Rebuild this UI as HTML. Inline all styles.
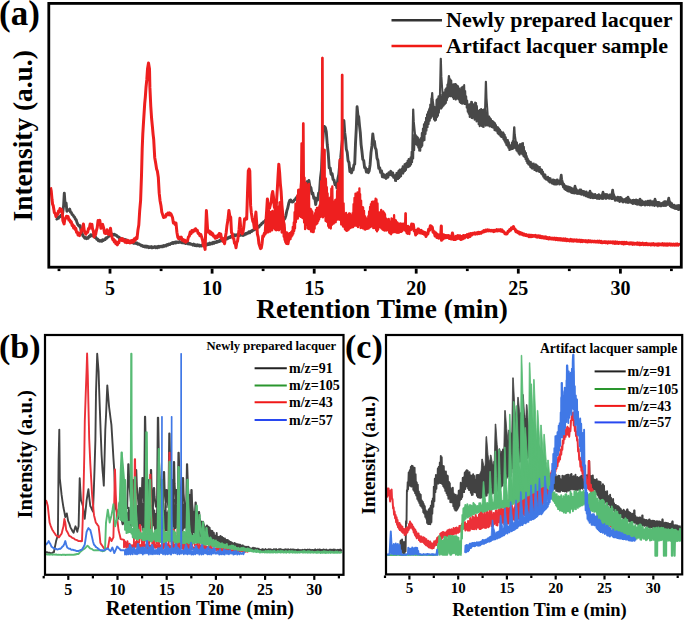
<!DOCTYPE html><html><head><meta charset="utf-8"><style>html,body{margin:0;padding:0;background:#fff;}body{width:685px;height:622px;overflow:hidden;font-family:"Liberation Serif",serif;} svg{display:block;}</style></head><body><svg width="685" height="622" viewBox="0 0 685 622">
<rect width="685" height="622" fill="#fff"/>
<defs><clipPath id="ca"><rect x="50" y="4.5" width="630" height="261.5"/></clipPath><clipPath id="cb"><rect x="46" y="336" width="296.5" height="237.5"/></clipPath><clipPath id="cc"><rect x="387" y="336" width="294" height="237"/></clipPath></defs>
<g clip-path="url(#ca)">
<path d="M56,218.6 L56.8,219.1 L57.7,217.5 L58.5,218.2 L59.3,216.6 L60.1,216.8 L61,215.2 L61.8,215.2 L62.6,213.5 L63.6,205.6 L64.3,193.2 L65,202.9 L66.1,203 L66.9,211.2 L67.8,209.8 L68.8,210.3 L69.7,209.1 L70.5,212.1 L71.3,212.5 L72.1,214.6 L72.9,214.8 L73.7,216.4 L74.5,217.1 L75.4,219.1 L76.2,219.9 L77.1,222.9 L78,224.8 L79,226 L80.1,225.7 L80.9,230.1 L81.8,232.4 L82.9,235.7 L84,236.9 L84.8,238.2 L85.7,237.5 L86.6,238.6 L87.4,237.8 L88.2,238.3 L89.1,236.2 L90,236.5 L90.8,234.7 L91.6,235.7 L92.4,235.3 L93.3,236.2 L94.1,235.7 L94.9,237.5 L95.8,237.3 L96.7,239.2 L97.5,238.9 L98.3,240.7 L99.2,240.2 L100.1,241.2 L100.9,240.6 L101.8,241.3 L102.6,239.8 L103.5,240.4 L104.3,239.4 L105.1,239.6 L105.9,237.9 L106.8,238.3 L107.6,237.1 L108.4,236.9 L109.3,235 L110.2,235.4 L111,233.7 L111.9,234.6 L112.8,234.2 L113.7,234.9 L114.6,234.3 L115.5,235.4 L116.5,235.3 L117.5,236.8 L118.4,236.7 L119.4,238.2 L120.4,238 L121.3,239.2 L122.2,238.7 L123,239.7 L123.9,239.3 L124.8,240.3 L125.7,239.6 L126.5,241.3 L127.4,240.6 L128.3,241.9 L129.3,241.2 L130.2,242.1 L131.2,241.3 L132.1,242.7 L133,242.2 L134,243.4 L134.9,242.6 L135.9,243.5 L136.8,242.8 L137.7,244.2 L138.7,243.8 L139.6,244.8 L140.5,244.7 L141.4,245.8 L142.3,245.4 L143.3,246.6 L144.2,246.1 L145.1,247 L145.9,246 L146.8,247.2 L147.7,246.4 L148.6,247.6 L149.4,246.8 L150.3,247.5 L151.2,246.6 L152.1,247.9 L153,246.9 L153.9,247.5 L154.8,246.6 L155.6,247.8 L156.5,246.8 L157.4,247.7 L158.3,246.4 L159.2,247.3 L160.1,246.2 L161,246.7 L161.9,246.1 L162.7,246.8 L163.6,245.6 L164.5,246.3 L165.4,245.3 L166.3,245.9 L167.2,244.4 L168.1,245 L168.9,244 L169.8,244.5 L170.7,243.4 L171.6,243.6 L172.5,242.5 L173.4,243.5 L174.3,242.2 L175.2,243 L176.1,241.8 L176.9,242.7 L177.8,242 L178.7,242.5 L179.6,241.6 L180.5,242.4 L181.3,242 L182.2,242.8 L183.1,242 L184,242.9 L184.8,242.4 L185.7,243.5 L186.6,242.3 L187.5,243.7 L188.4,242.9 L189.3,244.1 L190.1,243.6 L191,244.3 L191.9,244.1 L192.8,245.1 L193.7,244.1 L194.6,245.5 L195.5,244.7 L196.4,245.6 L197.2,244.7 L198.1,245.8 L199,245 L199.9,246.2 L200.8,245.4 L201.7,245.9 L202.6,244.7 L203.5,245.7 L204.4,244.3 L205.2,245.3 L206.1,244 L207,245 L207.9,243.8 L208.8,244.5 L209.7,243.1 L210.6,244.2 L211.4,242.9 L212.3,243.7 L213.2,242.3 L214.1,243.2 L215,242 L215.9,242.6 L216.8,241.4 L217.6,242.1 L218.5,241 L219.4,241.5 L220.2,239.9 L221.1,241 L222,239.4 L222.9,240.1 L223.9,238.8 L224.8,239.5 L225.7,238.2 L226.7,239 L227.6,237.7 L228.5,238.2 L229.3,237.1 L230.2,237.5 L231,236.2 L231.9,236.7 L232.7,235.4 L233.6,236.1 L234.4,234.8 L235.3,235.7 L236.2,234.7 L237.2,235.2 L238.2,234.6 L239.1,235.5 L240.1,234.7 L241,235.3 L242,234.3 L242.9,235.5 L243.8,234.2 L244.6,234.9 L245.5,233.6 L246.3,234.1 L247.2,232.9 L248,233.3 L248.9,231.9 L249.7,232.8 L250.6,231.2 L251.5,231.6 L252.5,230.2 L253.4,230.4 L254.4,229.2 L255.3,229.4 L256.3,227.7 L257.2,228.4 L258.2,226.6 L259.1,227 L260,225.1 L261,224.8 L261.9,223.2 L262.8,223 L263.7,221.7 L264.5,221.8 L265.4,220.2 L266.3,220.5 L267.2,219 L268,219.4 L268.9,217.4 L269.8,218.7 L270.6,218.3 L271.5,219 L272.4,218.3 L273.3,219.4 L274.1,218.8 L275,220.1 L275.9,219.5 L276.7,220.6 L277.6,220 L278.5,220.7 L279.4,220.2 L280.2,221.1 L281.1,220.5 L282.1,220.9 L283.1,219.7 L284,219.6 L285,218.3 L285.9,215.6 L286.8,210.9 L287.7,208.3 L288.8,203.1 L289.8,200.3 L290.7,200 L291.6,201.8 L292.5,202 L293.4,201.6 L294.3,200.1 L295.2,199.6 L296.2,197.6 L297.1,197.4 L298,195.7 L298.8,195.4 L299.7,193.4 L300.5,194.5 L301.3,190.4 L302.2,192.8 L303,188.7 L304,190.2 L305,184.6 L306,185.8 L307,181.7 L307.9,184.4 L308.9,180.5 L309.9,186.6 L310.9,187.5 L311.9,193.7 L312.8,193 L313.8,198.3 L314.8,197.7 L315.7,204.5 L316.6,198.5 L317.6,200.1 L318.6,193.2 L319.5,192 L320.5,177.7 L321.5,169.8 L322.4,147 L323.4,131.1 L324.4,126.4 L325.3,127.4 L326.3,131.9 L327.3,145 L328.2,152.9 L329.2,167.8 L330.2,168 L331.1,174.4 L332.1,173.6 L333.1,179.4 L334,179.9 L335,184.6 L335.9,183.2 L336.9,188 L337.9,178.5 L338.8,174.3 L339.8,163.4 L340.7,157.7 L341.7,146.7 L342.8,136.1 L343.9,120.5 L344.7,132.4 L345.5,138.5 L346.3,149.1 L347.2,152.2 L348.1,160.8 L349,162.5 L349.9,171.6 L350.7,168.6 L351.5,172.9 L352.3,170.2 L353.1,169.9 L353.9,164.9 L354.7,164.2 L355.5,143.5 L356.3,128.3 L357.1,106.8 L357.9,115.1 L358.7,116.9 L359.5,125.6 L360.3,132.6 L361.1,144.6 L361.9,151 L362.8,159.3 L363.7,160.5 L364.6,167.6 L365.5,167.7 L366.4,172 L367.4,169.6 L368.3,172.7 L369.2,170.8 L370.1,164.7 L371,152.6 L371.9,145.9 L372.8,133.9 L373.6,140.8 L374.4,141.3 L375.2,147.7 L376.1,149.7 L377,158.1 L377.9,160.4 L378.8,168.3 L379.7,167.8 L380.6,172.4 L381.5,170.8 L382.4,176.8 L383.3,174.2 L384.2,177.3 L385.1,175.6 L386,178.4 L387,174.2 L387.9,177.2 L388.9,172.8 L389.8,174.4 L390.8,171.3 L391.7,175.2 L392.7,172.9 L393.6,177.2 L394.5,175.8 L395.5,179.7 L396.4,179.3" fill="none" stroke="#484848" stroke-width="2.9" stroke-linejoin="round" />
<path d="M395,181.6 L395.5,174.8 L396,181.1 L396.4,173 L397,179.3 L397.5,172.6 L398,179.1 L398.5,170.8 L399.1,178.1 L399.7,169.6 L400.2,176.8 L400.7,170.4 L401.1,176.2 L401.7,168.4 L402.1,173.4 L402.7,166.3 L403.2,173.6 L403.6,166.2 L404.1,171.8 L404.5,164.2 L405,171.1 L405.5,163.8 L406,169.9 L406.4,163.1 L407,167.5 L407.6,160.7 L408,167.2 L408.6,159 L409,166.7 L409.5,159.6 L410,165.9 L410.6,157.2 L411.1,164.5 L411.6,151.8 L412.1,162.1 L412.6,143.2 L413.2,158.5 L413.6,138.9 L414.2,150.1 L414.6,134.8 L415.1,141.6 L415.7,134.9 L416.3,144.4 L416.9,136.4 L417.3,145.5 L417.9,137.4 L418.3,147.6 L418.8,139.2 L419.2,150.6 L419.7,143.6 L420.3,150.8 L420.7,138.1 L421.3,147.1 L421.8,133 L422.3,145.8 L422.9,128.6 L423.5,140.8 L423.9,124.3 L424.5,140.1 L425,121.9 L425.6,134 L426,117.7 L426.5,130.6 L427,114.3 L427.6,127.1 L428,112 L428.6,124.1 L429.2,110.8 L429.8,120.7 L430.2,104.4 L430.8,118.3 L431.3,98.5 L431.8,116.8 L432.3,93.9 L432.9,115.5 L433.4,104.5 L434,119.5 L434.6,106.9 L435,120.7 L435.4,107.9 L436,120.1 L436.5,100.1 L437,117.3 L437.5,98.6 L438,115.7 L438.5,96.3 L438.9,112.6 L439.5,98.2 L440,107.9 L440.5,94.8 L441,108.7 L441.4,97 L441.9,107.8 L442.3,98 L442.7,106.4 L443.2,94.7 L443.7,105.4 L444.3,92.2 L444.8,104.2 L445.3,89.5 L445.9,102.9 L446.4,88.1 L446.9,100.2 L447.4,84.6 L447.9,97.4 L448.4,84 L449,96 L449.4,81.3 L449.9,96.2 L450.4,79.4 L450.8,96.2 L451.3,80.5 L451.7,94.8 L452.2,85.1 L452.7,97.3 L453.3,84.3 L453.7,98.9 L454.3,84.2 L454.8,97.3 L455.3,84 L455.7,99.6 L456.2,84.6 L456.7,98.8 L457.1,85.6 L457.6,98.4 L458.1,86.3 L458.6,99.5 L459.2,88.5 L459.7,102 L460.2,91.8 L460.7,103 L461.3,87.8 L461.8,103.6 L462.2,87.2 L462.7,103.8 L463.2,86.4 L463.6,101.8 L464.2,85.1 L464.7,104.1 L465.2,90.9 L465.7,103.9 L466.2,96.3 L466.7,107.6 L467.2,100.6 L467.7,111.8 L468.2,104.3 L468.7,113.7 L469.2,105.6 L469.7,117 L470.2,103.7 L470.8,115.5 L471.2,101.8 L471.6,117.9 L472,102.1 L472.5,118.2 L473,104.1 L473.6,115.9 L474.1,106.1 L474.6,119.7 L475.1,102.5 L475.6,118.4 L476.1,103.1 L476.5,121.5 L476.9,105.9 L477.5,119.4 L478.1,111.1 L478.6,124.2 L479.1,110.4 L479.7,126.2 L480.1,109.8 L480.7,125 L481.2,109.1 L481.7,125.9 L482.3,110.2 L482.7,126.7 L483.2,109.8 L483.7,127 L484.2,109.2 L484.7,123.5 L485.3,110.1 L485.8,125.8 L486.3,112.2 L486.7,124.4 L487.3,113.7 L487.7,125.4 L488.2,118.1 L488.7,125.6 L489.2,116.6 L489.6,126.4 L490.1,118.1 L490.6,125.3 L491,119.1 L491.6,127.1 L492.1,121.1 L492.5,127.5 L492.9,121.2 L493.5,127.7 L494,122.2 L494.5,130.1 L495.1,123.3 L495.5,130.6 L496,125 L496.5,130.8 L497,127 L497.5,133 L498,127.3 L498.5,134.3 L499,128.6 L499.5,134.7 L500,129.7 L500.5,136.2 L500.9,131.3 L501.5,137.1 L502.1,132.7 L502.5,137.3 L503,132.3 L503.4,139.3 L503.8,133.3 L504.3,140.8 L504.7,134.7 L505.3,142.6 L505.8,137.3 L506.3,145 L506.8,139.8 L507.4,145.8 L507.9,140.1 L508.3,147.8 L508.9,142.3 L509.4,150.1 L509.9,144.9 L510.4,149.6 L510.8,145.6 L511.4,149.2 L511.9,142.5 L512.4,149.1 L512.8,140.9 L513.4,148.4 L513.9,141.2 L514.5,147.8 L515,141.3 L515.5,148.2 L515.9,142.5 L516.4,150.4 L517,142.5 L517.5,151.6 L518,145 L518.6,153.4 L519.2,145.8 L519.6,154.7 L520,144 L520.5,153.2 L520.9,145.2 L521.3,153.6 L521.8,143.4 L522.4,154.5 L523,143.1 L523.5,156.1 L523.9,146.7 L524.5,157.1 L525,151.1 L525.5,159.1 L526,152.9 L526.4,161.2 L526.8,156.1 L527.3,163.1 L527.8,158.5 L528.3,164.3 L528.9,160.6 L529.4,165.1 L529.8,161.7 L530.2,167 L530.8,161.8 L531.4,168 L531.8,163.4 L532.2,168.7 L532.7,163.7 L533.2,168.2 L533.8,163.6 L534.4,170.1 L534.8,165.4 L535.4,170.1 L535.8,164.2 L536.3,171.2 L536.7,165.1 L537.3,170.5 L537.8,166.1 L538.3,171.3 L538.8,167.5 L539.4,172.1 L539.9,166.1 M412.2,150.8 413.1,109.5 413.3,109.5 413.8,121.4 415.2,135.9 M427.6,116.9 428.5,111.2 428.8,111.2 429.2,109.1 430.6,106.5 M431.2,104.4 432.1,93 432.3,93 432.6,99.2 433.7,106.7 M439.8,99.7 440.7,58.7 440.9,58.7 441.4,76.4 442.8,98.1 M447.9,85.5 448.8,76 449,76 449.5,79.7 450.9,84.2 M484.9,114.5 485.8,81.8 486,81.8 486.5,97.8 487.9,117.4 M513.2,142.8 514.1,127.2 514.4,127.2 514.8,134.7 516.2,143.9" fill="none" stroke="#484848" stroke-width="2.0" stroke-linejoin="round" />
<path d="M540,171.7 L540.6,169.2 L541.3,173.6 L541.9,169.9 L542.4,174.5 L542.9,172 L543.4,176.6 L544,174.3 L544.6,178.4 L545.2,174.7 L545.9,179.2 L546.6,177.4 L547.2,179.8 L547.9,177 L548.6,181.4 L549.2,178.3 L549.8,182.3 L550.4,178.5 L550.9,182.2 L551.6,180.7 L552.2,183.4 L552.9,179.7 L553.5,184 L554,179.9 L554.7,184.2 L555.2,180.6 L555.8,184.3 L556.4,179.9 L557,184.2 L557.5,179.7 L558.2,183 L558.7,180.8 L559.4,184.3 L560,181 L560.6,183.7 L561.1,180.2 L561.8,184.2 L562.5,181.9 L563.2,187.2 L563.8,184 L564.6,189.1 L565.2,185.6 L565.8,189.8 L566.5,186.4 L567.1,190.7 L567.7,186.6 L568.3,191.3 L568.8,187 L569.5,191.4 L570.1,187.5 L570.7,192.2 L571.2,188 L571.9,192.8 L572.5,188.6 L573.1,193 L573.7,188.9 L574.3,193.2 L574.9,189.4 L575.6,193.1 L576.2,189.9 L576.8,193.6 L577.4,190.7 L578,193.7 L578.7,190.8 L579.2,193.5 L579.8,189.7 L580.3,194.1 L580.9,189.7 L581.5,194.5 L582.1,191 L582.6,194.1 L583.1,191.1 L583.7,195.2 L584.3,191.5 L584.8,194.7 L585.3,192.7 L585.8,196 L586.4,191.7 L586.9,196.3 L587.5,193.6 L588.2,197 L588.8,192.7 L589.5,197.3 L590.2,193.9 L590.7,197.8 L591.3,194.8 L591.8,197.6 L592.3,193.8 L593,198 L593.7,194.6 L594.4,197.9 L595.1,194.2 L595.7,197.8 L596.4,195.4 L596.9,198.5 L597.5,195.3 L598.1,198.5 L598.8,194.4 L599.3,198.8 L599.8,195.3 L600.3,198.1 L601,196 L601.7,198.6 L602.3,195.6 L602.9,198.7 L603.6,194.3 L604.2,197.4 L604.8,194.5 L605.4,198.5 L605.9,194.2 L606.4,198.6 L607.2,194.4 L607.8,197.8 L608.4,196 L609.1,198.5 L609.6,194.8 L610.3,198.4 L610.8,194.6 L611.4,198.7 L612.1,194.2 L612.7,198.9 L613.2,195.5 L613.8,198.6 L614.4,196.2 L615.1,200.5 L615.7,197.4 L616.3,200.1 L616.8,198.3 L617.3,200.5 L617.8,197 L618.4,200.5 L619,197.7 L619.6,201.7 L620.2,197.3 L620.8,201.2 L621.4,197.6 L621.8,201.4 L622.4,199.2 L623.1,202.3 L623.8,199.5 L624.5,201.6 L625.1,199.1 L625.7,202.2 L626.3,198.3 L626.9,202.4 L627.4,199.3 L628.1,202.7 L628.7,200.1 L629.3,202.4 L629.9,199.6 L630.5,202.3 L631.1,200.7 L631.6,203 L632.3,200.2 L632.9,203.9 L633.5,199.9 L634.2,203.2 L634.9,200.1 L635.5,203.8 L636.1,199.8 L636.7,204.4 L637.2,200.3 L637.9,204.6 L638.6,200.5 L639.2,203.6 L639.7,200.4 L640.2,205 L640.7,200.7 L641.3,205.2 L641.9,200.7 L642.4,204.9 L643.1,201.7 L643.8,204.6 L644.5,202.1 L645,205.3 L645.6,201.4 L646.2,204.5 L646.7,201.8 L647.3,205.1 L647.9,201 L648.5,204.9 L649.2,201 L649.8,205.3 L650.5,200.8 L651.1,204 L651.7,202.1 L652.2,205.3 L652.7,201.5 L653.2,205 L653.8,201.6 L654.5,205.8 L655.1,201.7 L655.5,204.9 L656,201.5 L656.7,205.3 L657.3,202.2 L657.8,206.4 L658.4,202.1 L658.9,205.4 L659.4,202.4 L660.1,206 L660.6,203.4 L661.2,206.1 L661.9,203.3 L662.5,205.6 L663.1,202.5 L663.8,205.7 L664.4,201.5 L665,205.8 L665.6,201.5 L666.2,205.5 L666.9,201.9 L667.5,204.7 L668.1,201.5 L668.8,204.6 L669.4,202.9 L670,206 L670.6,202.5 L671.2,207.1 L671.9,203.4 L672.4,207.6 L673,205.3 L673.5,207.8 L674.1,204.9 L674.6,208.6 L675.3,205.6 L675.9,208.9 L676.4,205.7 L677,208.7 L677.6,205.4 L678.3,209.7 L679,205.3 L679.7,209.5 L680.3,207.2 L680.9,209.9 M560.2,181.1 561.1,175 561.4,175 561.8,179.2 563.2,184.2 M574,190 574.9,186 575.1,186 575.6,188 577,190.4 M589,194.1 589.9,191 590.1,191 590.6,192.7 592,194.8 M602,195.6 602.9,192 603.1,192 603.6,193.6 605,195.6 M611.6,195.6 612.5,190 612.8,190 613.2,193.2 614.6,197 M627,199.7 627.9,197 628.1,197 628.6,198.4 630,200.2 M639,201.6 639.9,199 640.1,199 640.6,200.4 642,202.1 M654,202.5 654.9,199 655.1,199 655.6,200.8 657,203 M667.7,202.3 668.6,198 668.9,198 669.3,200.6 670.7,203.8" fill="none" stroke="#484848" stroke-width="2.4" stroke-linejoin="round" />
<path d="M50.5,187.3 L51.2,190.7 L52,199.3 L52.6,204.3 L53.2,205.5 L54.4,212.7 L55.2,213.4 L56,216.6 L56.9,213.9 L57.7,214.4 L58.5,211.1 L59.2,212 L60,208.6 L60.7,211 L61.4,209.3 L62.1,211.2 L62.9,220.8 L64.1,223.9 L64.9,218.9 L65.7,218.1 L66.5,216.2 L67.3,218 L68.1,216.6 L68.9,220.1 L69.7,219.8 L70.5,222.3 L71.3,221.9 L72.1,225.4 L72.9,224.8 L73.6,228 L74.3,226.3 L75.1,229.5 L75.8,228.2 L76.5,232.2 L77.3,232 L78,235 L78.8,233.1 L79.5,235.6 L80.3,233 L81,232.7 L81.8,229.2 L82.6,228.6 L83.4,224 L84.2,230.2 L85.1,233.1 L85.9,234.2 L86.8,232.1 L87.7,232.2 L88.5,228.5 L89.3,228.6 L90.2,223.9 L91.3,225.2 L91.9,224.3 L92.5,228.7 L93.3,230.7 L94.1,236.9 L94.9,233.5 L95.6,234.7 L96.4,230.5 L97.2,227.7 L98.1,220.5 L98.9,222.2 L99.8,220.4 L100.9,228.3 L101.8,224.9 L102.6,224.4 L103.7,228.2 L104.6,233.1 L105.4,233.5 L106.2,233.5 L107.1,229.8 L107.9,233.4 L108.8,234.4 L109.7,233.5 L110.5,228.2 L111.3,234.5 L112.1,237.5 L112.9,239.9 L113.6,239.2 L114.4,242 L115.1,240.6 L115.9,243.8 L116.6,242.1 L117.3,244.9 L118,243.4 L118.8,242.8 L119.6,239.6 L120.4,239.3 L121.2,238.6 L121.9,240.4 L122.7,238.9 L123.5,240.8 L124.2,240.2 L125,242.3 L125.8,240.4 L126.7,242.7 L127.5,240.2 L128.3,242.5 L129.2,241 L130,242.9 L130.9,240.7 L131.8,242.5 L132.6,240.3 L133.5,242 L134.4,238.8 L135.2,240.2 L136.1,237.6 L137,238.7 L137.9,230.3 L138.8,225 L139.7,210.6 L140.6,200.5 L141.5,175.5 L142.2,148.7 L142.8,134 L143.5,122.3 L144.7,103.6 L145.3,97.3 L146,87.5 L146.8,79.7 L147.5,69 L148.5,62.9 L149.5,68.9 L149.9,87.4 L150.8,106.7 L151.6,118.5 L152.4,126.6 L153.1,134.3 L153.7,139.5 L154.7,157.4 L155.7,163.3 L156.6,169 L157.4,171.3 L158.3,177.2 L159.2,193.2 L160.1,201 L161,205.8 L161.8,212.1 L162.7,214.8 L163.6,217.5 L164.5,216.8 L165.4,217 L166.3,214.2 L167.2,214.8 L167.9,213.1 L168.7,214.6 L169.4,212.9 L170.1,215 L170.9,213.8 L171.6,215.4 L172.5,217.5 L173.4,223.1 L174.3,222.4 L175.1,224.5 L176,223.1 L176.9,232.2 L177.8,237.2 L178.7,238.8 L179.5,237.2 L180.4,238.7 L181.3,237.2 L182.2,240.3 L183.1,239.7 L184,241.3 L184.8,240.2 L185.7,242.2 L186.6,240.8 L187.5,241 L188.4,237 L189.3,236.1 L190.2,232 L191.1,233.6 L191.9,230.6 L192.8,231.9 L193.7,230 L194.6,230.9 L195.5,228.7 L196.4,230.3 L197.3,230.3 L198.1,233.4 L199,233.2 L199.9,235.7 L200.8,234.5 L201.7,237.3 L202.6,240.2 L203.4,245.9 L204.2,245 L205.1,249.4 L205.8,227.7 L206.4,210.5 L207.6,229.7 L208.4,232.2 L209.3,231 L210.1,233.9 L211,232.2 L211.8,234.8 L212.7,233.7 L213.5,236.3 L214.4,236 L215.2,238.3 L216,236.4 L216.9,237.7 L217.8,235.3 L218.6,236.6 L219.3,233.4 L220,234.5 L220.8,234.1 L221.5,238.8 L222.3,238.2 L223.1,241.5 L223.8,241.1 L224.6,243.7 L225.4,236.8 L226.1,233 L226.9,226.1 L227.9,220.1 L228.9,210.4 L229.8,216 L230.7,217.1 L231.5,232.6 L232.3,233.7 L233,238.2 L233.8,238.6 L234.5,243.2 L235.3,243.8 L236,247.7 L236.8,242.6 L237.5,241.2 L238.3,235.8 L239.1,229.2 L239.9,218.3 L240.7,227.7 L241.4,232.2 L242.2,233.8 L242.9,232.4 L243.7,227.8 L244.5,219.1 L245.2,219.8 L246,217.9 L246.7,219 L247.5,193.2 L248.3,170.8 L249.1,169.1 L249.8,171.1 L250.6,205.4 L251.3,212.5 L252.1,217.6 L252.9,221.6 L253.6,222.8 L254.4,228.5 L255.2,218.7 L255.9,212.1 L256.6,221.6 L257.4,234.1 L258.2,237.2 L258.9,243.6 L259.7,246.1 L260.5,248.6 L261.3,248 L262.1,243.2 L262.8,235.9 L263.6,236.4 L264.3,233.3 L265.1,234.2 L265.9,221.7 L266.6,211.5 L267.4,198.9 L268.1,205.3 L268.9,207.7 L269.6,208.2 L270.4,204.7 L271.2,201.8 L271.9,194.9 L272.7,191.4 L273.5,197.3 L274.3,207 L275.1,208.9 L275.8,214.6 L276.6,200.4 L277.3,189.7 L278.1,175.1 L278.8,164.2 L279.6,172.3 L280.3,183.3 L281.1,191.3 L281.9,204.8 L282.7,213.7 L283.4,221.1 L284.2,224.4 L284.9,235.3 L285.7,241.8 L286.5,243.4 L287.2,242 L288,243.7 L289,238.2 L290,237.3" fill="none" stroke="#ee1f1f" stroke-width="3.0" stroke-linejoin="round" />
<path d="M266,232.8 L266.4,214.6 L266.8,232.8 L267.2,216.7 L267.7,230.7 L268.1,213 L268.5,232.3 L268.9,210.2 L269.4,229.7 L269.9,212.4 L270.3,231.5 L270.8,212 L271.3,228.8 L271.7,211.3 L272.2,230.3 L272.6,210.8 L272.9,228 L273.4,211.5 L273.9,227.9 L274.3,214 L274.8,229.3 L275.3,211.8 L275.7,230.1 L276.1,211.9 L276.5,230.3 L277,207 L277.4,229.6 L277.8,210.9 L278.2,230 L278.6,206.3 L279,230.3 L279.5,202.3 L280,227.2 L280.4,202.1 L280.8,229.3 L281.2,207.4 L281.7,232.6 L282.1,211.3 L282.6,231.2 L283.1,219.7 L283.7,236.6 L284.1,227.4 L284.6,240 L285.1,232.4 L285.6,241.6 L286,232.3 L286.4,241.1 L286.9,232.4 L287.3,240.9 L287.7,233.8 L288.1,240.4 L288.5,234.6 L288.9,240 L289.3,233.2 L289.7,239.3 L290.1,233.6 L290.5,239.2 L291,232.2 L291.5,236.7 L291.9,231.1 L292.4,235.4 L292.8,226.8 L293.3,233.6 L293.8,222.3 L294.2,231 L294.6,212.2 L295,228.6 L295.5,203.6 L295.9,222.3 L296.4,203.6 L296.8,218.5 L297.3,195.5 L297.8,218.7 L298.2,190 L298.7,215.7 L299.2,189.6 L299.7,215.9 L300.2,192.3 L300.6,216.9 L300.7,186.6 L301.1,181.9 L301.5,143.4 L301.6,214 L301.9,143.4 L302,185.8 L302.1,179.4 L302.5,218.2 L302.7,178.8 L302.9,184.1 L303.1,123.5 L303.3,216.3 L303.5,123.5 L303.8,172.7 L304.1,222.5 L304.5,177.6 L304.6,181 L305.1,229.2 L305.5,185.3 L305.9,224.4 L306.2,183.1 L306.7,224.9 L307.2,184.6 L307.6,228.3 L308,187.2 L308.5,229 L309,184 L309.3,227.2 L309.8,208.8 L310.3,229.7 L310.7,208.8 L311.1,231.7 L311.6,210.3 L312,231.7 L312.4,212 L312.9,232.2 L313.3,215.7 L313.7,232 L314.2,215.3 L314.6,228.7 L315.1,213.1 L315.5,224.6 L315.9,209.8 L316.4,224.3 L316.9,208 L317.4,223.3 L317.8,207.9 L318.2,221.1 L318.8,207.5 L319.1,219.5 L319.6,205.3 L320.1,217.2 L320.4,191.5 L320.9,216.8 L321.1,181.1 L321.4,185.4 L321.9,215 L322.2,58 L322.4,176.6 L322.6,58 L322.9,217.4 L323.2,178.9 L323.4,176.3 L323.7,178.8 L324,215.5 L324.3,150 L324.4,177.5 L324.7,150 L324.8,216.3 L325.2,180.2 L325.6,221.1 L325.8,178.5 L326,182.4 L326.4,217 L326.8,187.1 L327.2,222.2 L327.6,193.5 L328.2,226.1 L328.6,198.2 L329,227.7 L329.4,205.2 L329.9,225.8 L330.4,197.3 L330.8,228.5 L331.3,188.7 L331.8,225 L332.3,186.5 L332.8,223.8 L333.3,201.6 L333.8,223.5 L334.3,201.5 L334.8,220.4 L335.3,199.8 L335.7,222.3 L336.2,199.7 L336.7,219.8 L337.1,190.9 L337.5,219.6 L337.9,183.4 L338.3,218.2 L338.8,185.4 L338.8,183.5 L339.3,219.8 L339.6,160 L339.7,180.5 L340,160 L340.3,217.2 L340.8,189.6 L340.8,189 L340.9,189.6 L341.2,224.5 L341.6,191.3 L342,75 L342.1,221.9 L342.4,75 L342.6,197.4 L343,226.6 L343.5,204.9 L343.6,203.3 L344.1,226.9 L344.5,214.3 L344.9,229.1 L345.3,213.8 L345.7,230.2 L346.1,213 L346.6,230.9 L347.1,214.7 L347.6,230.5 L348.2,215.2 L348.7,229.6 L349.1,213.5 L349.6,228.4 L350,213.7 L350.4,228 L350.8,215.1 L351.2,227.5 L351.7,217.4 L352.1,227.3 L352.6,213.2 L353.1,227.2 L353.6,204.1 L354,224 L354.5,197.9 L355,225.8 L355.5,193.6 L356,221.5 L356.5,197 L357,226.1 L357.5,192.4 L358,227.2 L358.4,193.3 L358.9,224.9 L359.4,188.5 L359.7,225.3 L360.1,194.1 L360.6,228.1 L361.1,200.6 L361.6,226.1 L362.1,206.8 L362.6,228.3 L363.1,207.5 L363.5,227.1 L364,210.8 L364.5,229.4 L364.9,216.1 L365.3,229.7 L365.7,217.5 L366.2,228.6 L366.6,219 L367.1,228.9 L367.5,218.8 L367.9,228.4 L368.3,216.2 L368.7,228.5 L369.1,211.5 L369.6,227.1 L370.1,206.9 L370.5,227.2 L370.9,204.1 L371.4,226.2 L371.9,202 L372.4,225.7 L372.9,201.7 L373.3,228.2 L373.8,205.1 L374.2,225.6 L374.7,201.1 L375.2,228.3 L375.6,198.7 L376.1,230.1 L376.5,199.4 L377,231.4 L377.5,203.5 L378.1,229.8 L378.4,213.4 L379,227.3 L379.5,212.3 L379.9,226.6 L380.3,214.2 L380.7,227.6 L381.2,209.8 L381.7,228.7 L382.2,212.5 L382.7,229.6 L383.2,211.5 L383.7,230.2 L384.2,212.7 L384.6,230.6 L385,214.2 L385.6,229.7 L386,218.5 L386.4,230.5 L386.9,219.1 L387.4,228.5 L387.8,219.9 L388.3,230.5 L388.8,219 L389.2,232.6 L389.6,221.5 L390.1,233.4 L390.6,222.1 L391.1,234.3 L391.5,218.5 L391.9,232.8 L392.3,219 L392.7,232.6 L393.2,219.6 L393.6,231.9 L394.1,215.2 L394.5,232 L395,220.1 L395.5,232.1 L395.9,220.4 L396.4,232.5 L396.7,221.8 L397.2,232.8 L397.6,222.6 L398,232.2 L398.5,223.7 L398.9,232.8 L399.3,225.2 L399.8,231.3 L400.2,223.4 L400.7,231.9 L401.2,224.8 L401.5,231.8 L402,223.7 L402.4,231 L402.8,224.5 L403.2,229.6 L403.6,223.6 L404.1,229.1 L404.6,224.2 L404.9,223.6 L405,230.6 L405.4,213.3 L405.5,224.6 L405.8,213.3 L405.9,231.6 L406.3,225.8 L406.4,226 L406.7,233.1 L407.2,228.1 L407.5,233.8 L408,225.8 L408.5,233.5 L408.9,227.7 L409.4,234 L409.9,225.8" fill="none" stroke="#ee1f1f" stroke-width="2.3" stroke-linejoin="round" />
<path d="M410,228.4 L410.8,229.7 L411.7,224 L412.5,225.9 L413.3,224.4 L414.1,230.7 L414.9,230.4 L415.7,234.9 L416.5,230.6 L417.2,233.5 L418,229 L418.5,229.1 L419.2,230.6 L420.2,233 L421.2,230.4 L422.2,233.3 L423.2,231.8 L424.1,234.1 L425.1,232.6 L426,236.4 L427,233.2 L427.8,234 L428.7,229.3 L429.5,230.1 L430.4,225.7 L431.2,226.3 L432.2,227.1 L433.1,232.2 L434.1,231.6 L435.1,236 L436,233.1 L436.9,237.5 L437.9,234.6 L438.8,238.1 L439.7,234.8 L440.6,238.2 L441.3,226.1 L441.5,240.3 L442,235.3 L442.8,239.1 L443.7,234.8 L444.5,237.9 L445.4,235.5 L446.2,237.6 L447.1,235.7 L447.9,237.3 L448.7,235.6 L449.5,238.5 L450.4,236.4 L451.2,239 L452,236.3 L452.4,233.1 L453,235.9 L453.7,239.4 L454.4,237.1 L455.3,239.5 L456.2,236.3 L457.1,238.6 L458.1,235.6 L459,238.4 L459.9,235.8 L460.8,239.5 L461.7,236.5 L462.6,238.8 L463.5,235.5 L464.5,238 L465.4,235.5 L466.3,236.6 L467.2,234.7 L468.1,237.4 L469.1,234 L470,236.5 L470.9,233.6 L471.8,234.9 L472.8,233.4 L473.7,233.9 L474.6,232.9 L475.5,234 L476.4,232.9 L477.4,233.8 L478.3,232.3 L479.2,233.6 L480.1,232.5 L481,233.2 L482,231.8 L482.9,232.1 L483.8,230.7 L484.7,231.7 L485.7,230.1 L486.6,231 L487.5,229.8 L488.4,230.8 L489.3,230.1 L490.3,230.9 L491.2,230.4 L492.1,231.1 L493,230.3 L493.9,231.6 L494.8,230.4 L495.7,230.9 L496.7,229.7 L497.6,230.9 L498.5,229.8 L499.4,230.6 L500.3,229.7 L501.1,231.1 L502,230 L503,231.8 L504,231.9 L505,233.8 L506.2,234 L507.1,233.7 L508.1,231.4 L509,231.3 L509.8,229.5 L510.7,230.1 L511.5,227.9 L512.5,228.4 L513.4,226.7 L514.3,228.8 L515.1,229.3 L516,231.7 L516.9,231.2 L517.8,232.7 L518.7,232 L519.6,233.8 L520.6,232.6 L521.5,234.2 L522.4,233.5 L523.3,235 L524.3,234.2 L525.2,235.4 L526.2,234.7 L527.1,235.7 L528.1,235.1 L529,236.6 L530,235.2 L530.9,236.6 L531.7,235.4 L532.6,236.3 L533.4,235.6 L534.3,236.2 L535.2,235.3 L536.1,236.8 L536.9,235.8 L537.8,237.1 L538.7,235.8 L539.6,237.3 L540.5,236.2 L541.3,237.6 L542.2,236.7 L543.1,237.9 L544,237 L544.9,238 L545.8,237 L546.6,238.4 L547.5,237.6 L548.4,238.9 L549.3,237.6 L550.2,238.8 L551.1,238.1 L552,239 L552.9,238.2 L553.8,239.2 L554.7,238.2 L555.6,239.5 L556.5,238.3 L557.4,239.7 L558.3,238.6 L559.2,239.8 L560,238.6 L560.9,240 L561.8,239 L562.7,240.2 L563.6,238.9 L564.5,240.3 L565.4,239 L566.3,240.6 L567.2,239.4 L568.1,240.6 L569,239.8 L569.9,240.9 L570.8,239.5 L571.7,240.9 L572.6,239.8 L573.5,241.1 L574.4,239.9 L575.3,240.9 L576.2,240 L577.1,241.2 L578,240.1 L578.9,241.2 L579.8,240.2 L580.7,241.5 L581.6,240.3 L582.5,241.6 L583.4,240.7 L584.2,241.4 L585.1,240.6 L586,241.7 L586.9,240.8 L587.8,241.9 L588.7,240.7 L589.6,241.6 L590.5,240.9 L591.4,241.8 L592.3,241.2 L593.2,241.8 L594.1,241.1 L595,241.9 L595.9,241.3 L596.8,242 L597.7,241.2 L598.6,242.2 L599.5,241.2 L600.4,242.4 L601.3,241.5 L602.2,242.7 L603.1,241.8 L604,242.5 L604.9,241.7 L605.8,242.6 L606.7,241.9 L607.6,243 L608.5,241.8 L609.4,242.6 L610.3,241.8 L611.2,242.7 L612.1,241.9 L613,243 L613.9,242 L614.8,243.4 L615.7,242 L616.6,243.2 L617.5,242.1 L618.4,243.4 L619.3,242.4 L620.2,243.2 L621.1,242.4 L622,243.5 L622.9,242.3 L623.8,243.9 L624.7,242.5 L625.6,243.6 L626.5,242.5 L627.4,243.5 L628.3,243 L629.2,243.9 L630.1,242.8 L631,243.8 L631.9,242.9 L632.8,244.3 L633.7,243.1 L634.6,244.1 L635.5,243.3 L636.4,244.1 L637.3,243 L638.2,244.3 L639.1,243.1 L640,244.7 L640.9,243.4 L641.8,244.4 L642.7,243.2 L643.6,244.6 L644.5,243.6 L645.4,244.5 L646.3,243.3 L647.2,244.7 L648.1,243.8 L649,244.7 L649.9,243.9 L650.8,244.8 L651.7,243.8 L652.6,244.7 L653.5,243.6 L654.4,245 L655.3,244.1 L656.2,244.9 L657.1,244 L658,245.2 L658.9,243.8 L659.8,244.8 L660.7,244.1 L661.6,244.8 L662.5,243.7 L663.4,245 L664.3,244 L665.2,245.1 L666.1,244 L667.1,245.2 L668,243.9 L668.9,244.9 L669.8,243.9 L670.8,245 L671.7,244.1 L672.6,245 L673.5,244.2 L674.5,245.1 L675.4,244.1 L676.3,245 L677.2,243.9 L678.1,245.2 L679.1,244.3 L680,245" fill="none" stroke="#ee1f1f" stroke-width="3.1" stroke-linejoin="round" />
</g>
<g clip-path="url(#cb)">
<path d="M46,552.2 L46.8,552.1 L47.5,552.6 L48.2,552.7 L49,552.8 L49.8,552.8 L50.5,553.1 L51.4,553.1 L52.2,552.8 L53,552.4 L53.9,552.2 L54.6,548.5 L55.4,544.6 L56.1,541.1 L57,538 L57.9,535.5 L58.6,460 L59.3,429.6 L59.8,478.3 L60.7,486.5 L61.6,494.9 L62.5,501.4 L63.5,507.8 L64.4,512.1 L65.3,517 L66,515.4 L66.8,513.4 L67.4,516.9 L68.1,520.8 L68.8,522.5 L69.5,524.2 L70.2,526.6 L70.9,528.1 L71.8,529.8 L72.7,531.5 L73.6,532.8 L74.5,529.6 L75.5,526.3 L76.4,528.8 L77.3,531.8 L77.9,528.9 L78.6,526.3 L79.7,478.3 L80.3,489.3 L81,500.4 L82,503 L82.9,506 L83.8,512.7 L84.7,518.9 L85.7,509.6 L86.6,500.4 L87.5,494.6 L88.4,489.3 L89.3,497.8 L90.3,506 L91.2,507.6 L92.1,509.9 L93,511.5 L93.8,490.7 L94.5,470 L95.4,440 L96,392.8 L96.6,373.3 L97.2,353.8 L97.9,362.6 L98.6,371.5 L99.2,391 L99.9,410.5 L100.8,435.3 L101.6,455 L102.5,470 L103.2,477.6 L103.8,485.6 L104.5,460 L105.3,430 L106.1,414 L106.7,399.4 L107.3,385.4 L108.2,396.4 L109.1,407 L109.8,412.3 L110.5,418 L111.4,424.6 L112.6,444.1 L113.4,457.7 L114.3,470.9 L114.9,489.3 L115.6,508 L116.5,510 L117.2,514.7 L118,518.9 L118.7,511.2 L119.4,503 L120.1,509.3 L120.8,515.2 L121.7,520 L122.6,524.4 L123.3,523.2 L124,522 L124,520.5 L124.6,504.3 L125.4,525.3 L126,508.7 L126.7,522.7 L127.3,513.3 L128,525.9 L128.8,507.8 L129.6,525.5 L130.2,511.3 L130.9,528.2 L131.5,510.4 L132.2,523.8 L133,512.7 L133.7,526.5 L134.5,499.4 L135.3,529.4 L136.1,512.4 L136.8,530 L137.6,506 L138.2,530.2 L138.9,497.1 L139.7,528.6 L140.4,501.4 L141.2,524.8 L141.8,500.8 L142.6,529.9 L143.3,503.7 L144,527.6 L144.7,497.4 L145.5,529.8 L146.2,501.3 L147,524.7 L147.7,501.3 L148.3,525.5 L148.9,503.9 L149.6,530.2 L150.2,498.4 L150.8,529.1 L151.6,505.9 L152.2,527.7 L152.8,501.6 L153.6,525.3 L154.3,510.4 L155,529.1 L155.7,513.9 L156.5,529.5 L157.2,506 L157.9,526.9 L158.7,505.4 L159.5,531 L160.2,506 L160.8,530.8 L161.6,502.4 L162.2,531 L163.1,501.1 L163.7,530.7 L164.3,511.1 L164.9,530.5 L165.5,503.1 L166.1,530.2 L166.9,512.6 L167.7,531 L168.3,510.9 L168.9,530.7 L169.6,501.9 L170.4,527.7 L171.1,500.4 L171.7,530.8 L172.3,507.6 L172.9,526.3 L173.6,499.4 L174.3,529.2 L174.9,505.1 L175.4,528 L176,508 L176.8,527.4 L177.5,506.6 L178.1,531.3 L178.9,512.5 L179.4,531.4 L180.2,502.5 L181,527.5 L181.7,505.2 L182.5,531.1 L183.1,504.6 L183.7,528.6 L184.4,511.6 L185.2,527.4 L185.8,507.5 L186.6,530.1 L187.3,512.6 L187.9,533.7 L188.5,509.4 L189.1,532.7 L189.9,508.2 L190.6,530.7 L191.4,513.7 L192.1,535.1 L193,517.3 L193.7,532.2 L194.3,511.6 L194.9,534.8 L195.8,523.1 L196.4,534.8 L197.2,516.9 L198,533.4 L198.8,525.6 L199.6,536 L200.2,520 L200.9,538.2 L201.7,521.8 L202.2,538.4 L202.8,524.3 L203.5,539 L204.2,525.2 L204.8,537.4 L205.5,527.2 L206.3,537 L207,525.4 L207.8,539.4 L208.4,526.8 L209,540.2 L209.6,527.6 L210.5,539.2 L211.1,530.8 L211.8,540.6 L212.4,531 L213.1,539.7 L213.8,532.7 L214.5,541.9 L215.3,535.8 L216,542 L216.7,533 L217.3,542.6 L218,536.9 L218.6,542.6 L219.3,536.7 L219.9,541.9 L220.6,536 L221.2,542.9 L222.1,537 L222.7,543.6 L223.3,537.9 L224.2,544 L224.9,538.4 L225.7,544.1 L226.4,540 L227.1,544.8 L227.8,540 L228.6,545.5 L229.3,541.2 L230.2,545.7 L230.8,541.9 L231.4,545.8 L232,542.8 L232.6,546 L233.2,543.4 L234,546.7 L234.6,543 L235.3,547 L235.9,543.6 L236.7,547.3 L237.5,544.2 L238.1,547.6 L238.8,544.5 L239.4,547.9 L240.1,544.6 L240.7,548 L241.5,545.6 L242.1,548.4 L242.9,545.3 L243.5,548.7 L244.3,546.4 L245.1,548.8 L245.8,546.6 L246.6,549.2 L247.3,546.8 L247.9,549.3 L248.6,546.8 L249.4,549.1 L250.1,548.2 L250.9,549.6 L251.5,548.5 L252.3,549.9 L253,547.6 L253.7,549.8 L254.4,548.1 L255.1,550.1 L255.7,548.3 L256.5,550.5 L257.3,548.6 L258,550.7 L258.7,548.7 L259.2,550.9 L260,549.7 L260.8,551 L261.5,549.6 L262.2,551 L262.9,549.1 L263.5,550.9 L264,549.9 L264.7,550.7 L265.5,549 L266.3,550.7 L267,549.9 L267.7,551 L268.3,549.2 L269.1,550.7 L269.7,549.3 L270.3,551 L270.9,549.3 L271.5,550.8 L272.1,549.9 L272.8,550.9 L273.6,549.3 L274.2,551 L274.9,549.2 L275.6,551 L276.4,549.2 L277,551 L277.7,549.9 L278.3,551 L278.9,549.2 L279.7,550.7 L280.3,549.1 L281,550.9 L281.6,549.4 L282.4,551 L283.2,549.7 L283.9,550.9 L284.6,549.5 L285.2,550.9 L285.8,549.3 L286.4,551 L287,549.5 L287.6,550.9 L288.3,549.3 L288.9,550.9 L289.7,549.7 L290.4,550.9 L290.9,549.3 L291.7,550.9 L292.3,549.4 L293.1,551 L293.7,549.5 L294.5,550.9 L295.1,549.8 L295.7,551 L296.4,549.9 L297.2,551 L297.9,549.4 L298.5,551 L299.2,550.1 L299.9,551 L300.7,550.1 L301.4,550.9 L302.2,549.8 L303,550.9 L303.8,549.9 L304.4,550.9 L305,549.5 L305.8,550.9 L306.5,549.9 L307.1,551 L307.8,549.6 L308.5,550.7 L309.3,549.6 L310.1,550.9 L310.9,549.7 L311.6,550.9 L312.3,549.9 L313,550.7 L313.8,550.1 L314.5,550.9 L315.2,549.3 L315.9,550.8 L316.7,549.9 L317.2,550.8 L317.9,549.6 L318.7,550.9 L319.4,549.4 L320,551 L320.6,549.7 L321.2,551 L321.8,549.9 L322.6,550.8 L323.3,549.4 L324.1,551 L324.7,549.7 L325.5,551 L326.3,549.6 L327.1,550.8 L327.9,550.2 L328.7,551 L329.4,549.7 L330.2,551 L330.9,549.6 L331.5,550.9 L332.3,549.8 L332.9,551 L333.6,549.6 L334.2,551 L334.9,549.6 L335.6,550.9 L336.3,550.1 L337.1,551 L337.8,549.8 L338.5,550.9 L339.1,549.7 L339.9,550.8 L340.5,549.6 L341.1,550.9 L341.9,549.5 M127.2,508.9 128.2,464.3 128.6,464.3 129.3,483.8 131.4,507.7 M132,507.5 132.8,480 133.2,480 133.6,492.1 135,506.9 M135.2,506.9 136,470 136.3,470 136.9,486.6 138.7,507 M139,507 139.8,488 140.2,488 140.6,496.6 142,507 M141.5,507 142.3,478 142.7,478 143.1,491.1 144.5,507.1 M144.1,507.1 144.9,416.7 145.2,416.7 146,457.4 148.1,507.2 M147,507.1 147.8,480 148.2,480 148.6,492.2 150,507.2 M150,507.2 150.8,470 151.2,470 151.6,486.8 153,507.3 M153,507.3 153.8,488 154.2,488 154.6,496.7 156,507.4 M157,507.4 157.8,417.6 158.2,417.6 158.9,458.1 161,507.6 M160,507.6 160.8,485 161.2,485 161.6,495.2 163,507.7 M163,507.7 163.8,472 164.2,472 164.6,488.1 166,507.8 M165.5,507.7 166.3,490 166.7,490 167.1,498 168.5,507.8 M168.4,507.8 169.2,433.4 169.6,433.4 170.3,467.2 172.4,508.6 M171,508.2 171.8,480 172.2,480 172.6,493 174,509 M173,508.7 173.8,462 174.2,462 174.6,483.4 176,509.5 M175.5,509.4 176.3,490 176.7,490 177.1,499.1 178.5,510.2 M177.6,510 178.4,452.7 178.8,452.7 179.5,479 181.6,511.1 M180,510.6 180.8,490 181.2,490 181.6,499.7 183,511.5 M182,511.2 182.8,478 183.2,478 183.6,493.3 185,512 M186.1,512.8 186.9,464.3 187.2,464.3 188,487.4 190.1,515.7 M189,514.9 189.8,495 190.2,495 190.6,504.9 192,517 M190.5,516 191.3,490 191.7,490 192.1,502.7 193.5,518.1 M194.7,519 195.5,502.4 195.8,502.4 196.6,511.6 198.7,522.9 M198,522.2 198.8,512 199.2,512 199.6,517.9 201,525.1 M201.9,526 202.8,521.7 203.1,521.7 203.8,525 205.9,529 M205.5,528.7 206.3,530 206.7,530 207.1,530.3 208.5,530.7 M209.8,531.6 210.7,530.7 211,530.7 211.7,532.3 213.8,534.2 M213,533.7 213.8,538 214.2,538 214.6,536.9 216,535.5 M216.6,535.8 217.4,537.5 217.8,537.5 218.5,537.6 220.6,537.8 M222.5,538.8 223.3,542.5 223.7,542.5 224.4,541.7 226.5,540.8 M229.3,542.2 230.2,542.7 230.5,542.7 231.2,543 233.3,543.5 M235.4,544.1 236.2,546 236.6,546 237.3,545.7 239.4,545.3 M245.6,547 246.4,548.2 246.8,548.2 247.5,548 249.6,547.7" fill="none" stroke="#424242" stroke-width="1.9" stroke-linejoin="round" />
<path d="M46,500 L46.8,502.3 L47.8,506 L48.7,514.6 L49.6,522.6 L50.5,525.3 L51.5,527.8 L52.4,530 L53.1,530.9 L53.9,532.3 L54.6,533.3 L55.4,534.4 L56.1,535.5 L57,535.9 L58,536.6 L58.9,537.4 L59.8,536.1 L60.7,534.8 L61.6,533.7 L62.5,530 L63.5,526.3 L64.4,518.9 L65.3,522.6 L66.2,530 L67.1,531.5 L68.1,533.4 L69,535.5 L69.8,536.2 L70.6,536.5 L71.4,537.1 L72.2,537.8 L73,538.1 L73.8,538.4 L74.6,539.2 L75.4,539.7 L76.1,539.9 L76.9,540.2 L77.7,540.5 L78.4,541.1 L79.2,541.1 L80.1,541 L81.1,541.3 L82,541.1 L82.7,520.5 L83.3,500 L83.8,478.3 L84.3,455 L84.8,421.1 L85.7,394.6 L86.6,370 L87.1,353.5 L87.8,375 L88.4,403.4 L89.2,438.8 L90.3,463.5 L91.2,479.2 L92.1,494.9 L93,505.1 L94,515.2 L94.9,518.8 L95.8,522.6 L96.7,523.6 L97.7,525.1 L98.6,526.3 L99.5,533.7 L100.4,542.9 L101.1,544.2 L101.9,545.2 L102.6,546.2 L103.4,547.5 L104.1,548.5 L104.8,548.3 L105.6,548.3 L106.3,548.4 L107.1,548.7 L107.8,548.5 L108.8,542.8 L109.7,537.4 L110.6,539 L111.5,541.1 L112.5,539 L113.4,537.4 L114.3,500 L115,469.5 L115.8,495 L116.9,515.8 L117.7,522.6 L118.5,530 L119.2,532.9 L120,536 L120.7,539 L121.5,539.4 L122.3,539.4 L123.2,539.7 L124,540 L124,547.3 L125.1,541.4 L126.3,547.9 L127.4,541.2 L128.5,548 L129.6,543.7 L130.7,547.7 L131.8,545.2 L132.7,547.6 L133.9,543.9 L134.8,547.9 L136,541.6 L137.1,547.1 L138,542.3 L138.9,547.6 L139.9,544.8 L141,547.9 L142.2,541.8 L143,547.4 L144.2,544.5 L145.3,547.1 L146.3,544.2 L147.4,548 L148.4,542.2 L149.3,547.7 L150.3,545.5 L151.2,547.7 L152.4,544.5 L153.4,548 L154.5,542.6 L155.5,547.7 L156.5,544.8 L157.4,548 L158.6,542.7 L159.4,547.9 L160.4,545.3 L161.3,548.2 L162.1,543.5 L163.1,548.2 L164.2,542.5 L165.4,547.9 L166.5,544 L167.5,548.4 L168.5,543 L169.4,548.5 L170.3,545.8 L171.5,548.2 L172.3,543.2 L173.3,548.2 L174.3,544.6 L175.4,548.8 L176.4,545.3 L177.3,548.3 L178.3,543 L179.2,549 L180.4,545.8 L181.4,548.1 L182.2,544.3 L183.1,549.2 L184.2,543.5 L185.4,548.9 L186.5,543.7 L187.7,548.7 L188.5,544.1 L189.4,549.2 L190.2,546.4 L191.2,549 L192.1,545.9 L193.1,549.2 L194,547.5 L195.2,549 L196.1,544.9 L197,549.8 L198.2,545.3 L199.3,549.9 L200.4,545.4 L201.3,549.5 L202.3,548 L203.2,550.1 L204,545.9 L205.2,550 L206.2,546.5 L207.3,550 L208.2,546.3 L209.1,549.9 L210.2,546.8 L211.1,550.5 L212.1,548.3 L213,550.6 L213.9,549.1 L214.9,550.1 L215.8,548.4 L216.9,550.3 L217.8,547.9 L218.9,550.4 L219.9,548.3 L220.8,550.9 L221.9,548.5 L222.9,550.9 L223.8,548.3 L224.8,550.6 L226,548.7 L227.1,550.9 L228.1,548.9 L229,551 L230.1,548.8 L230.9,551.4 L232.1,550.1 L233.1,551.2 L234.1,549 L235.2,551.4 L236.3,549.2 L237.4,551.6 L238.5,550.4 L239.3,551.5 L240.1,549.8 L241.1,551.3 L242.1,550.7 L243.2,551.5 L244.1,549.6 L245.2,551.8 L246.2,549.8 L247.3,551.7 L248.5,550 L249.3,551.9 M133.9,543.4 134.8,459.2 135.1,459.2 135.5,497.1 136.9,543.4 M139,543.5 139.8,525 140.2,525 140.6,533.4 142,543.6 M144,543.6 144.8,530 145.2,530 145.6,536.2 147,543.7 M149.3,543.8 150.2,474.6 150.5,474.6 150.9,505.8 152.3,543.9 M154,543.9 154.8,532 155.2,532 155.6,537.4 157,544 M159,544.1 159.8,520 160.2,520 160.6,530.9 162,544.2 M163,544.2 163.8,530 164.2,530 164.6,536.4 166,544.3 M168.6,544.4 169.4,452.7 169.8,452.7 170.2,494 171.6,544.5 M173,544.6 173.8,530 174.2,530 174.6,536.6 176,544.7 M177,544.7 177.8,525 178.2,525 178.6,533.9 180,544.8 M182,545 182.8,532 183.2,532 183.6,538 185,545.2 M187,545.4 187.8,528 188.2,528 188.6,535.9 190,545.6 M192,545.8 192.8,536 193.2,536 193.6,540.5 195,546.1 M197,546.2 197.8,538 198.2,538 198.6,541.8 200,546.5 M203,546.9 203.8,540 204.2,540 204.6,543.2 206,547.2 M209,547.6 209.8,543 210.2,543 210.6,545.2 212,547.9" fill="none" stroke="#ec3038" stroke-width="1.9" stroke-linejoin="round" />
<path d="M46,554.3 L46.8,554.3 L47.6,554.6 L48.3,554.6 L49.1,554.2 L49.9,554.7 L50.7,554.5 L51.4,554.2 L52.2,554.8 L53,554.4 L53.8,554.5 L54.6,554.6 L55.3,554.7 L56.1,554.4 L56.9,554.8 L57.7,554.9 L58.4,554.8 L59.2,554.9 L60,554.8 L60.8,554.9 L61.6,555 L62.4,554.6 L63.2,554.7 L64,554.8 L64.8,554.6 L65.6,555.1 L66.3,554.9 L67.1,554.6 L67.9,554.9 L68.7,554.8 L69.5,554.7 L70.3,554.7 L71.1,554.9 L71.9,554.6 L72.7,554.9 L73.5,554.8 L74.3,554.7 L75.1,554.3 L75.9,554.6 L76.7,554 L77.5,553.9 L78.3,554 L79,553.5 L79.8,552.4 L80.5,551.7 L81.3,551.1 L82,550.3 L82.9,549.7 L83.8,549.1 L84.7,548.5 L85.6,547.6 L86.6,546.6 L87.5,545.7 L88.4,546.4 L89.4,547.8 L90.3,548.5 L91,548.7 L91.8,548.9 L92.5,549.5 L93.3,550.1 L94,550.3 L94.8,550.4 L95.5,550.3 L96.3,550.3 L97.1,550.1 L97.8,550.4 L98.6,550.3 L99.3,550.4 L100.1,550.4 L100.8,550.6 L101.6,550.8 L102.3,551.2 L103.2,551 L104.1,550.8 L105,550.3 L106,522.6 L106.9,516.3 L107.8,509.7 L108.8,516 L109.7,522.6 L110.6,518.7 L111.5,515.2 L112.5,509.9 L113.4,504.1 L114.3,515.1 L115.2,526.3 L116.1,522.4 L117.1,518.9 L118,515.2 L118.9,507.9 L119.8,500.4 L120.7,470 L121.7,452.4 L122.6,462.6 L123.5,472.7 L124.2,481.9 L125,491.2 L125,529.8 L125.7,513.9 L126.5,533.1 L127.4,521.5 L128.1,532.5 L128.9,521.8 L129.8,532.1 L130.6,526.1 L131.5,533.6 L132.1,528.8 L132.8,537.4 L133.7,529.5 L134.6,538.4 L135.5,526.2 L136.5,539.1 L137.3,527 L137.9,539.6 L138.8,529.8 L139.7,538.1 L140.5,532.5 L141.2,538.3 L141.9,533.7 L142.6,540.1 L143.4,528.6 L144.1,540.1 L145,529.1 L145.8,540.7 L146.6,535 L147.3,540.4 L148,533.4 L148.9,540.1 L149.8,529.4 L150.4,541.2 L151.1,529.7 L152,541.2 L153,533.5 L153.9,539.6 L154.7,530.9 L155.5,541.3 L156.2,529.8 L157,541.1 L157.9,532.8 L158.8,541.4 L159.7,534.4 L160.3,542 L161.1,531 L161.9,542.1 L162.6,530.3 L163.4,542.2 L164,533.6 L164.8,542.2 L165.8,532.3 L166.7,541.3 L167.5,531.9 L168.2,540.2 L169,531.5 L169.7,541.6 L170.6,532.1 L171.5,541.4 L172.3,533.8 L173.2,540.6 L173.8,531 L174.6,542.7 L175.3,532.5 L176,542.2 L176.6,536.1 L177.5,542.8 L178.2,534.9 L178.9,541.7 L179.6,533.9 L180.4,542.3 L181.3,536.6 L182.3,543.1 L183.1,531.8 L183.9,543.2 L184.6,532 L185.3,543.2 L186,534.3 L186.9,542.3 L187.6,533.2 L188.5,543.4 L189.4,538 L190.2,543.2 L190.8,533.9 L191.8,543.8 L192.4,535.9 L193.2,543.1 L193.9,534.3 L194.6,542.9 L195.5,534.1 L196.3,543 L197.1,534.4 L197.8,542.4 L198.4,534.3 L199.1,542.8 L200.1,537.8 L201,543.3 L201.7,535.8 L202.5,543.8 L203.4,537.7 L204.1,544.6 L205,537.6 L205.7,544.8 L206.7,536.5 L207.3,544.2 L208.2,537.6 L209,545.7 L209.8,538.1 L210.7,544.7 L211.5,539.1 L212.2,546 L212.8,541.5 L213.6,546.4 L214.4,541.8 L215.1,546.7 L215.9,540.4 L216.5,547.1 L217.4,542.6 L218.1,547.4 L218.8,543 L219.5,547.3 L220.2,543.8 L221,547.6 L222,543.3 L222.7,547.5 L223.7,544.2 L224.6,548 L225.3,544.7 L226,547.5 L226.8,544 L227.5,548.3 L228.5,546.4 L229.2,548.2 L230,545.9 L230.9,548.7 L231.8,545.4 L232.5,548.9 L233.3,545.7 L234.2,549.5 L235.1,546.4 L235.8,549.5 L236.6,547.9 L237.5,549.9 L238.3,547.8 L239.2,550.2 L240,548.4 L240.8,550.4 L241.4,547.9 L242.3,550.3 L243.1,547.6 L243.8,550.6 L244.6,548.3 L245.3,550.9 L246,548.9 L246.7,551.2 L247.7,548.4 L248.4,551.2 L249.1,549 L250,551.2 L250.8,549.3 L251.5,551.3 L252.2,550 L253.2,551.8 L254,550.4 L254.8,551.6 L255.6,550.1 L256.3,552.1 L257.3,550.1 L258,551.9 L258.7,550.9 L259.7,552.4 L260.4,551.1 L261,552.4 L262,551.4 L262.9,552.4 L263.8,551.5 L264.6,552.5 L265.5,550.9 L266.3,552.5 L267.2,551.1 L267.9,552.5 L268.5,551 L269.4,552.5 L270.1,550.9 L270.9,552.6 L271.6,551.2 L272.5,552.5 L273.2,551 L273.9,552.5 L274.6,550.8 L275.6,552.5 L276.4,551.6 L277.1,552.6 L277.9,550.8 L278.8,552.3 L279.6,551.2 L280.3,552.6 L281,550.8 L281.9,552.4 L282.8,551 L283.6,552.6 L284.4,551.6 L285.1,552.5 L285.9,550.9 L286.6,552.7 L287.6,551.6 L288.5,552.4 L289.1,550.9 L289.8,552.7 L290.7,551.3 L291.5,552.3 L292.1,551 L292.8,552.7 L293.5,551.4 L294.5,552.6 L295.2,551.3 L296,552.7 L296.9,551.7 L297.7,552.7 L298.5,551.8 L299.4,552.7 L300.1,551.6 L300.9,552.4 L301.8,551.4 L302.5,552.6 L303.3,551 L304,552.7 L304.8,551.1 L305.6,552.6 L306.4,551.7 L307.2,552.7 L308,551.1 L308.7,552.6 L309.5,551.3 L310.3,552.7 L311,551.6 L311.6,552.5 L312.4,551.5 L313.2,552.8 L313.9,551.9 L314.8,552.6 L315.8,551.9 L316.5,552.8 L317.2,551.4 L317.9,552.8 L318.8,551.5 L319.4,552.6 L320.2,551.9 L320.8,552.9 L321.5,551.7 L322.5,552.8 L323.4,551.3 L324.1,552.8 L324.8,551.3 L325.5,552.9 L326.2,551.5 L326.8,552.8 L327.7,551.8 L328.5,552.8 L329.4,551.5 L330.2,552.9 L330.9,551.6 L331.8,552.7 L332.5,551.8 L333.4,552.8 L334.1,552.1 L334.9,552.9 L335.7,551.5 L336.4,552.7 L337.2,551.5 L337.8,552.8 L338.5,552.2 L339.3,552.8 L340.1,552.2 L340.9,552.8 L341.7,551.6 M120.2,518 121.5,452.4 121.9,452.4 122.3,481.9 123.7,518 M124,518 124.8,480 125.2,480 125.6,498.2 127,520.4 M130.6,524.7 131.2,353.8 131.5,353.8 131.6,431.6 132.3,526.7 M133.9,528.6 134.8,477.2 135.1,477.2 135.5,501.1 136.9,530.4 M145.3,532.6 146.3,432.2 146.7,432.2 147.1,477.5 148.5,532.8 M149,532.9 149.8,480 150.2,480 150.6,503.9 152,533.1 M157.6,533.4 158.7,448.9 159,448.9 159.4,487 160.8,533.6 M161,533.6 161.8,480 162.2,480 162.6,504.2 164,533.8 M168.4,534 169.4,461.7 169.8,461.7 170.2,494.3 171.6,534.2 M177.4,534.5 178.4,466.9 178.8,466.9 179.2,497.4 180.6,534.7 M186.4,535.6 187.4,479.8 187.8,479.8 188.2,505.2 189.6,536.1 M195.4,537 196.4,505.5 196.8,505.5 197.2,519.8 198.6,537.4 M198.5,537.4 199.3,515 199.7,515 200.1,525.2 201.5,537.6 M201.8,537.7 202.8,522.2 203.2,522.2 203.6,529.3 205,538 M205.5,538.2 206.3,528 206.7,528 207.1,533.1 208.5,539.4 M209.4,539.8 210.2,537.5 210.6,537.5 211,539.1 212.4,541 M212.5,541.1 213.3,540 213.7,540 214.1,541 215.5,542.2 M216.6,542.5 217.4,542 217.8,542 218.2,542.6 219.6,543.4 M223,544.3 223.8,546.6 224.2,546.6 224.6,545.9 226,545.1 M229.7,546.1 230.5,547.7 230.8,547.7 231.3,547.2 232.7,546.7" fill="none" stroke="#57bb74" stroke-width="1.9" stroke-linejoin="round" />
<path d="M119.7,520 121.4,452.4 122,452.4 123.7,486 125.3,508.7 127,521.7 128.7,524.1Z M133.4,529.4 134.6,477.2 135.2,477.2 136.1,502.4 137,519.7 137.8,530.1 138.7,532.2Z M145.1,533.8 146.3,432.2 146.9,432.2 147.8,480 148.7,511.5 149.5,529 150.4,534.2Z M157.4,534.6 158.6,448.9 159.2,448.9 160.1,488.7 161,515.2 161.8,531.3 162.7,534.9Z M168.2,535.2 169.4,461.7 170,461.7 170.9,497.5 171.8,520 172.6,532.4 173.5,535.5Z M177.2,535.7 178.4,466.9 179,466.9 179.9,498.9 180.8,520.9 181.6,531.8 182.5,536.2Z M186.2,536.7 187.4,479.8 188,479.8 188.9,507.5 189.8,524.3 190.6,534.1 191.5,537.5Z M195.2,538 196.4,505.5 197,505.5 197.9,522.4 198.8,530.9 199.6,538.4 200.5,538.5Z M201.6,538.7 202.8,522.2 203.4,522.2 204.3,530.8 205.2,536.7 206,539.3 206.9,539.7Z" fill="#57bb74" stroke="#57bb74" stroke-width="0.8" stroke-linejoin="round"/>
<path d="M45.9,544.8 L46.6,544 L47.3,543.1 L48,542.3 L48.7,541.1 L49.6,542.8 L50.6,544.5 L51.5,546.6 L52.4,547.4 L53.3,547.8 L54.2,548.5 L54.9,548.6 L55.7,549 L56.4,548.9 L57.2,549.5 L57.9,549.4 L58.6,549.2 L59.3,548.7 L60,549 L60.7,548.5 L61.6,547.6 L62.6,546.4 L63.5,545.7 L64.4,543.6 L65.3,541.1 L66.2,544.5 L67.2,547.5 L67.9,548 L68.7,548.4 L69.4,548.9 L70.2,548.7 L70.9,549.4 L71.6,549.9 L72.4,549.8 L73.1,549.8 L73.9,550.2 L74.6,550.3 L75.3,550.4 L76.1,550.8 L76.8,551 L77.6,551 L78.3,551.2 L79,550.6 L79.8,550.4 L80.5,550 L81.3,549.9 L82,549.4 L82.9,548.1 L83.8,546.5 L84.7,544.8 L85.7,538.3 L86.6,531.8 L87.5,529.8 L88.4,528.1 L89.3,529.2 L90.3,530 L91.2,533.6 L92.1,537.4 L93,541.4 L94,544.8 L94.9,545.5 L95.8,546.9 L96.7,547.5 L97.4,547.8 L98.2,548.8 L98.9,549.1 L99.7,549.8 L100.4,550.3 L101.1,550.2 L101.9,550.2 L102.6,550.3 L103.4,550.5 L104.1,550.3 L104.8,549.9 L105.6,549.5 L106.3,549.4 L107.1,548.7 L107.8,548.5 L108.7,549.3 L109.7,550.3 L110.6,551.2 L111.5,549.4 L112.4,547.5 L113.3,550.1 L114.3,553.1 L115.2,551.1 L116.2,548.8 L117.1,546.6 L117.8,547.1 L118.6,548 L119.3,548.6 L120.1,549.5 L120.8,550.3 L121.6,550.1 L122.5,550.2 L123.3,550.3 L124.2,550.4 L125,550.3 L125,554.5 L125.9,549.4 L126.7,554.5 L127.7,548.6 L128.6,554.3 L129.7,547.6 L130.6,554.5 L131.5,547.5 L132.7,554.4 L133.9,547.6 L135.1,554.1 L136.1,549.7 L137,554.4 L138.1,547.5 L138.9,553.6 L140,547.9 L141,553.3 L141.9,547.4 L142.9,554.5 L143.8,547.3 L144.9,553.6 L145.9,548.2 L146.8,553.2 L147.9,549.5 L148.8,554.5 L149.9,547.5 L151,554.2 L151.8,547.5 L152.9,554.3 L154,550 L155,554.1 L156.1,549.8 L157.1,554.1 L158.1,548.3 L159.2,554.4 L160.3,547.7 L161.2,553.1 L162,548.2 L163,554.2 L164.2,549.6 L165.2,554.5 L166.4,548.1 L167.3,554.4 L168.2,547.3 L169,553.8 L170,548.8 L171,554.5 L172.1,547.7 L173.2,553.4 L174.2,548.1 L175.2,553.3 L176.4,550 L177.4,554.3 L178.5,548.3 L179.6,554.3 L180.6,549.1 L181.6,553.5 L182.8,550.4 L183.8,554.3 L184.8,548.9 L185.9,553.8 L186.8,548.2 L187.6,554.4 L188.7,549.7 L189.5,553.7 L190.6,549.1 L191.4,554.5 L192.2,551.1 L193.2,554.5 L194.3,549.2 L195.2,554.3 L196.1,547.9 L197.2,553.5 L198.2,549.7 L199.3,554.5 L200.5,548.2 L201.5,554.5 L202.4,548.4 L203.3,554.2 L204.3,549.6 L205.4,553.4 L206.3,549.2 L207.3,554.4 L208.1,551.2 L209.1,554.3 L210.2,549.2 L211.2,554.5 L212.1,549.4 L213.1,553.6 L214.3,550.7 L215.3,553.7 L216.2,552.1 L217,553.7 L218,551.1 L219.2,554.5 L220.1,549.5 L221.1,554.4 L222.1,551.8 L223,554.3 L223.9,549.7 L224.7,554.5 L225.9,550.2 L227,553.9 L227.9,550.7 L228.9,554.3 L230,550.1 L231.1,553.6 L232.3,552 L233.3,554.5 L234.2,551.1 L235,554.2 L236.2,551 L237.2,554.5 L238.4,552 L239.5,554.3 L240.4,552.9 L241.4,553.9 L242.5,552.9 L243.4,554.2 L244.4,551.5 M129,549.6 129.8,545 130.2,545 130.6,547 132,549.5 M137,549.5 137.8,544 138.2,544 138.6,546.5 140,549.5 M146,549.4 146.8,541 147.2,541 147.6,544.8 149,549.4 M151,549.3 151.8,545 152.2,545 152.6,546.9 154,549.3 M165,549.3 165.8,543 166.2,543 166.6,545.9 168,549.4 M175,549.5 175.8,544 176.2,544 176.6,546.5 178,549.6 M185,549.7 185.8,545 186.2,545 186.6,547.1 188,549.7 M190,549.8 190.8,543 191.2,543 191.6,546.1 193,549.8 M195,549.9 195.8,546 196.2,546 196.6,547.8 198,549.9 M201,550 201.8,545 202.2,545 202.6,547.3 204,550.1 M207,550.3 207.8,547 208.2,547 208.6,548.5 210,550.4 M213,550.6 213.8,548 214.2,548 214.6,549.2 216,550.7" fill="none" stroke="#4078e6" stroke-width="1.9" stroke-linejoin="round" />
<path d=" M161.7,549.3 161.8,416.7 162.1,416.7 162,476.4 162.2,549.3 M171.4,549.5 171.5,416.7 171.8,416.7 171.8,476.4 172,549.5 M180.9,549.6 181,353.8 181.3,353.8 181.3,441.9 181.5,549.6" fill="none" stroke="#4078e6" stroke-width="1.4" stroke-linejoin="round" />
</g>
<g clip-path="url(#cc)">
<path d="M400.2,554 L400.5,541 L400.5,554 L400.9,540.5 L401.5,553.3 L402.1,539.5 L402.6,551.9 L403.1,543.1 L403.6,553.6 L404,542 L404.5,554 L405,542.5 L405.6,551.3 L406,521.3 L406.5,523.4 L406.9,490.3 L407.3,491.3 L407.7,482.1 L408.1,489.1 L408.7,472.4 L409.3,485.3 L409.8,470.3 L410.3,485.9 L410.8,467 L411.2,486.6 L411.8,465.6 L412.2,486.3 L412.8,466.1 L413.3,489.7 L413.8,469.6 L414.2,491 L414.6,467.7 L415.1,493.3 L415.6,474.1 L416.2,495.5 L416.8,482.5 L417.3,498.9 L417.8,484.6 L418.3,500.8 L418.8,491.4 L419.3,502.9 L419.8,493.7 L420.3,505.4 L420.7,494.6 L421.2,506.4 L421.8,500.4 L422.3,507.9 L422.9,502 L423.3,512.2 L423.7,503.9 L424.2,513.5 L424.8,506.2 L425.3,516.9 L425.8,510.3 L426.3,518.7 L426.7,511.8 L427.1,522.9 L427.7,511.5 L428.2,524.1 L428.7,509.5 L429.2,524 L429.8,508.3 L430.3,524.3 L430.8,505.6 L431.4,522.4 L431.9,500.9 L432.3,513.6 L432.8,498.4 L433.4,506.7 L433.8,486.7 L434.4,501.2 L434.8,478.7 L435.4,492.1 L435.9,475 L436.4,488.7 L436.9,475 L437.4,483.6 L437.8,468.4 L438.3,483.6 L438.8,466.7 L439.3,482.8 L439.8,462.5 L440.3,483.1 L440.8,455.9 L441.2,483.1 L441.7,457.1 L442.3,484.2 L442.9,466 L443.3,486.2 L443.8,466.3 L444.3,487.8 L444.9,471.7 L445.3,490.9 L445.9,471.5 L446.5,493.1 L446.9,475.3 L447.4,495.2 L447.8,476 L448.4,498.7 L449,482 L449.4,498.5 L449.8,483.3 L450.3,502.1 L450.7,487.9 L451.2,502.4 L451.8,489.7 L452.3,502.3 L452.8,487.7 L453.3,506.3 L453.8,493.5 L454.4,508.7 L454.9,494.9 L455.3,510.4 L455.8,494.7 L456.3,510.6 L456.7,497.7 L457.3,509.5 L457.8,495.3 L458.3,507.7 L458.7,490.8 L459.3,505.7 L459.8,490.2 L460.2,499.9 L460.7,482.8 L461.3,499 L461.7,484.1 L462.2,497 L462.7,478 L463.2,491.3 L463.6,477.4 L464.1,492.1 L464.7,472.7 L465.3,489.1 L465.7,471.4 L466.3,486.5 L466.7,470.1 L467.2,485.7 L467.7,470.8 L468.1,488.4 L468.6,474.2 L469,490.1 L469.5,472.2 L469.9,489.9 L470.4,475.3 L470.8,492.7 L471.4,475.8 L471.8,495.1 L472.2,475.7 L472.7,494.7 L473.2,474.1 L473.7,491.8 L474.2,476 L474.8,492.2 L475.4,480.2 L476,492.6 L476.5,475.3 L476.9,495.8 L477.5,475 L477.9,497.3 L478.4,474.9 L478.9,497.6 L479.4,475.8 L479.9,497.8 L480.4,473.4 L480.8,497.7 L481.4,471.4 L481.8,497.4 L482.2,469.7 L482.7,496.9 L483.1,472.2 L483.6,496.5 L484,473.4 L484.6,490.8 L485.1,466.5 L485.6,495.9 L486.1,464.7 L486.7,495.5 L487.2,467.9 L487.7,492.8 L488.1,461.8 L488.6,492.5 L489.2,467.9 L489.7,494.5 L490.2,460.4 L490.8,494.2 L491.3,468 L491.8,493.8 L492.3,465.6 L492.7,491.9 L493.2,465.6 L493.7,493 L494.2,461.7 L494.7,490.1 L495.2,460.3 L495.8,489.9 L496.3,463.4 L496.7,487.3 L497.2,458.1 L497.6,490.7 L498.1,457.7 L498.5,490.3 L499,456.2 L499.5,490.5 L500,462.4 L500.6,487.7 L501.1,454.1 L501.6,486.1 L502,451.6 L502.6,485.6 L503,449.5 L503.5,482.9 L504.1,453.9 L504.6,480.9 L505.2,454.5 L505.7,483 L506.2,443.9 L506.7,477.9 L507.3,442.3 L507.7,476.5 L508.1,449.7 L508.7,472.6 L509.3,441 L509.7,476.8 L510.2,439.8 L510.7,476.2 L511.2,439.5 L511.6,468.4 L512.1,433.2 L512.6,468.2 L513.1,428 L513.5,472.5 L514,424.8 L514.5,471.2 L515.1,424.7 L515.6,470.8 L516.2,429.1 L516.8,462.7 L517.3,415.4 L517.9,457.9 L518.4,424.1 L518.9,459.5 L519.5,420.6 L519.9,461.8 L520.4,413.1 L521,460.7 L521.4,413.8 L521.9,456 L522.4,414.7 L522.9,453 L523.3,413.4 L523.8,459.6 L524.3,415.8 L524.7,460 L525.2,418.7 L525.7,452.7 L526.3,422.3 L526.7,458.2 L527.2,426.5 L527.8,457.8 L528.4,433 L529,456.2 L529.5,435 L530.1,458 L530.6,433.6 L531.1,465.3 L531.6,437.1 L532.1,463.6 L532.7,440.1 L533.1,465.8 L533.5,439.8 L533.9,466.2 L534.3,440.1 L534.9,466.3 L535.3,441.3 L535.9,469.5 L536.3,448.1 L536.9,471 L537.4,452.7 L537.8,470.9 L538.4,455.7 L538.9,474.8 L539.4,459.8 L539.9,478.1 L540.4,464.6 L540.9,480.2 L541.3,466.2 L541.7,483.8 L542.3,470.7 L542.9,485.8 L543.3,470.6 L543.9,485.1 L544.4,473.1 L545,486.3 L545.4,476.2 L546,489.8 L546.6,478.7 L547.1,487.6 L547.6,475.6 L548,489.7 L548.5,476 L549.1,488.8 L549.7,476.6 L550.1,489.9 L550.5,477 L551,487.8 L551.6,477.5 L552.1,489.8 L552.5,475 L553.1,487.4 L553.5,473.3 L554,489 L554.4,476.5 L555,488.3 L555.6,474.5 L556.2,490.9 L556.7,478 L557.1,491 L557.6,476.4 L558.1,491.5 L558.6,475.7 L559,491.5 L559.5,475.9 L560,491.7 L560.4,479 L560.9,490 L561.5,480.2 L562,490.5 L562.4,475.6 L562.9,491.1 L563.4,476.1 L563.9,490.8 L564.3,479.2 L564.7,491.4 L565.2,475.6 L565.7,491.1 L566.3,475.1 L566.7,491.7 L567.3,474.6 L567.8,490.3 L568.4,474.6 L568.9,490.8 L569.5,478.7 L570,489.7 L570.5,474.7 L571,489.4 L571.5,474 L572.1,488.3 L572.6,477 L573,489.4 L573.6,476.2 L574.1,489.5 L574.6,476.2 L575.1,489.6 L575.5,474.8 L576,490 L576.4,477.2 L576.9,490 L577.4,477 L577.9,489.9 L578.4,478.3 L578.9,488.7 L579.5,477.4 L579.9,489.6 L580.4,476.8 L580.8,488.1 L581.3,475.7 L581.7,487.7 L582.2,475.7 L582.6,488.7 L583.2,476.9 L583.6,487.1 L584.1,476.1 L584.7,488.1 L585.2,474.4 L585.8,485.7 L586.2,476.2 L586.7,485.6 L587.1,475.2 L587.7,486 L588.2,475.3 L588.4,474.7 L588.7,487.1 L588.8,461.1 L589.1,475.2 L589.2,461.1 L589.6,475.3 L589.6,487.2 L590.1,477.1 L590.6,487.7 L591.1,476 L591.5,488.1 L591.9,476.4 L592.4,488.6 L592.8,475.4 L593.3,488.4 L593.7,479.3 L594.1,489.6 L594.6,479.9 L595.1,488.4 L595.7,480 L596.1,492.6 L596.7,479.1 L597.1,494.2 L597.6,481.2 L598.1,495.6 L598.6,481.5 L599.1,497.7 L599.7,481.7 L600.1,499.5 L600.6,482.1 L601.2,498.9 L601.7,485.9 L602.3,501.5 L602.9,484.1 L603.4,500.6 L604,485.7 L604.6,503.4 L605,491.4 L605.5,501.3 L606.1,492.6 L606.6,502.2 L607.1,491.1 L607.6,505 L608,495.8 L608.6,504.4 L609.2,496.3 L609.7,504.8 L610.1,494.6 L610.6,508.3 L611,497.7 L611.6,506.9 L612.1,500.6 L612.6,509.7 L613.1,498.9 L613.5,510.4 L614,503.1 L614.5,510.7 L614.9,504.6 L615.5,511.9 L615.9,505 L616.4,511.8 L616.8,506.5 L617.3,513.2 L617.8,505.9 L618.3,514.3 L618.8,506.8 L619.2,514.2 L619.6,507.7 L620.2,515.9 L620.8,509 L621.4,516.9 L621.8,510.4 L622.2,517.4 L622.7,511.3 L623.3,518 L623.7,509.8 L624.3,519 L624.7,511 L625.2,519.6 L625.6,511.9 L626.1,518.5 L626.7,511.5 L626.7,511.9 L627.1,509.4 L627.2,520.7 L627.5,509.4 L627.8,513.7 L627.9,512.4 L628.3,520.2 L628.7,511.8 L629.1,521.3 L629.6,512.5 L630.1,520.9 L630.5,513 L631,522.2 L631.6,514.5 L632,522.5 L632.4,513.6 L632.9,521.8 L633.5,515.8 L633.7,515 L633.9,522.2 L634.1,510.4 L634.4,515.7 L634.5,510.4 L634.9,522.7 L634.9,515.6 L635.3,515.9 L635.8,522.7 L636.4,517.7 L636.9,523.9 L637.3,517.4 L637.8,524.2 L638.3,518.1 L638.7,524 L639.2,517.4 L639.7,523.8 L640.2,517.5 L640.6,523.7 L641.1,518.6 L641.5,524.4 L641.8,518.6 L642,519.5 L642.2,515.4 L642.6,515.4 L642.6,525.7 L643,519 L643.1,520.2 L643.7,524.9 L644.2,519.5 L644.7,525.8 L645.1,519.9 L645.6,525.3 L646.2,519.9 L646.7,525.8 L647.2,520.5 L647.6,526.1 L648.1,520.5 L648.5,527.2 L648.8,520.8 L649.1,521.7 L649.2,519.5 L649.6,519.5 L649.7,527.7 L650,521.1 L650.2,520.6 L650.7,527.8 L651.1,521.3 L651.6,527.1 L652.1,520.7 L652.6,527.8 L653.1,520.8 L653.6,528.3 L654.2,521 L654.6,528.3 L655.1,521.4 L655.6,527.3 L656.1,521.4 L656.5,528.3 L657,521.2 L657.5,527.4 L658.1,521.5 L658.6,528.3 L659.2,521.4 L659.7,528.4 L660.1,521.6 L660.6,528.6 L661.1,522.7 L661.6,528.5 L661.9,522.5 L662.1,522.2 L662.3,519.5 L662.6,528.8 L662.7,519.5 L663,524 L663.1,522.7 L663.5,529.2 L664,524 L664.5,528.8 L664.9,522.7 L665.3,529.1 L665.8,522.8 L666.3,529.6 L666.9,522.9 L667.5,529.1 L668.1,523.3 L668.6,529.1 L669.2,523.9 L669.6,528.6 L670,524.3 L670.5,529.4 L670.9,523.7 L671.4,530.1 L671.8,524.3 L671.9,524.5 L672.3,521.5 L672.3,529.2 L672.7,521.5 L672.8,524.2 L673.1,524.9 L673.4,529.3 L673.9,525.6 L674.4,530.2 L674.9,525.1 L675.5,530.1 L675.9,525.1 L676.5,530.8 L677.1,525.4 L677.5,530.8 L678,525.9 L678.5,530.6 L678.9,527 L679.4,531.1 L679.9,526.3 L680.4,531.6" fill="none" stroke="#424242" stroke-width="1.9" stroke-linejoin="round" />
<path d="M480.6,482.8 481.8,459 482.4,459 483.8,465.7 485.3,471.4 486.7,473.1 488.1,474.8Z M484.8,477.2 486,436.6 486.6,436.6 488,454.6 489.5,464.3 490.9,471.4 492.3,473Z M489.2,474.4 490.4,455 491,455 492.4,463.3 493.9,466.4 495.3,470.7 496.7,470Z M494,471.8 495.2,424 495.8,424 497.2,444.4 498.7,457.1 500.1,464.5 501.5,466.1Z M497.9,469.2 499.1,448.7 499.7,448.7 501.1,454.3 502.6,457.2 504,461 505.4,460Z M503.5,463 504.7,410.5 505.3,410.5 506.7,428.5 508.2,442.4 509.6,448.7 511,449.4Z M507.5,456.8 508.7,430 509.3,430 510.7,433.6 512.1,437.7 513.6,440.1 515,440.7Z M511.5,448.4 512.7,377.8 513.3,377.8 514.7,405.1 516.1,420.7 517.6,431.6 519,433.9Z M516.5,437.4 517.7,397.3 518.3,397.3 519.7,413.1 521.1,425.2 522.6,431.5 524,431.9Z M521.5,430.5 522.7,394.5 523.3,394.5 524.7,417.2 526.1,430.2 527.6,439.8 529,441.3Z M525.2,432.9 526.4,404.6 527,404.6 528.4,424.9 529.9,439.8 531.3,446.1 532.7,448.2Z M530.5,444.6 531.7,425 532.3,425 533.7,443.6 535.1,455.4 536.6,461.2 538,462Z M535.5,452.9 536.7,440 537.3,440 538.7,458.1 540.1,469.5 541.6,475 543,476.5Z" fill="#424242" stroke="#424242" stroke-width="0.8" stroke-linejoin="round"/>
<path d="M387,497.6 L387.5,488.6 L388,488.7 L388.6,488.6 L389,495.6 L389.5,494.4 L390.1,501.4 L390.6,490.4 L391.1,490.5 L391.6,489.6 L392,498.8 L392.5,499.1 L393.1,508.4 L393.6,507.3 L394.1,514.8 L394.6,511.6 L395.1,518.2 L395.6,514.9 L396.1,522.3 L396.6,517.2 L397.1,524.7 L397.5,519.9 L398,527.3 L398.5,523 L399.1,528.8 L399.5,523.1 L399.9,530.1 L400.4,524.4 L400.8,530.4 L401.3,526.1 L401.8,531.7 L402.4,526.8 L402.8,532.8 L403.3,528.7 L403.7,532.7 L404.1,528.9 L404.6,534.9 L405.1,530.3 L405.6,534.7 L406.1,528.2 L406.5,533.5 L407.1,527.8 L407.5,532.2 L408,527 L408.6,530.2 L409,523.9 L409.6,528.5 L410,521.6 L410.5,527.4 L411,523.3 L411.5,527.7 L412.1,524.4 L412.7,529.4 L413.2,526.7 L413.7,532.4 L414.3,528.6 L414.9,535 L415.3,529.8 L415.8,536.4 L416.2,531.5 L416.8,538.3 L417.4,533.8 L417.9,537.5 L418.5,533.5 L419,540.1 L419.6,536.1 L420.1,541.5 L420.5,536.7 L421,542 L421.4,536.4 L422,541.6 L422.6,538.5 L423.1,542 L423.5,537.2 L424.1,543.2 L424.6,537.9 L425,544.3 L425.5,539 L426,545.2 L426.4,539.2 L426.8,545.5 L427.3,541.2 L427.8,546.2 L428.3,540.8 L428.7,547.3 L429.2,541.7 L429.6,547.6 L430.2,541.5 L430.7,547.8 L431.1,543 L431.6,548.3 L432,543.9 L432.5,548.5 L433.1,543.3 L433.7,548 L434.2,541.3 L434.7,546 L435.2,541.6 L435.7,544.7 L436.1,540.3 L436.5,544.9 L437.1,538 L437.6,542.5 L438.2,536.9 L438.7,541.1 L439.3,536.2 L439.8,540 L440.3,533.7 L440.8,539.6 L441.3,532.9 L441.7,538.7 L442.2,532.4 L442.7,537.4 L443.1,532 L443.6,536.6 L444.2,532.4 L444.6,536.4 L445.2,532.9 L445.7,537.1 L446.3,532.1 L446.9,536.4 L447.4,530.5 L447.9,535.8 L448.3,530.3 L448.9,535.7 L449.4,529.5 L449.9,535.3 L450.5,530.6 L451.1,533.9 L451.5,529.2 L452.1,534.8 L452.6,529.9 L453.2,534.4 L453.6,528.1 L454.1,533.8 L454.5,529.3 L455,533.4 L455.6,528 L456.1,533.7 L456.6,527.4 L457.2,532.1 L457.6,528.2 L458,532.8 L458.4,528 L458.9,531.9 L459.4,525.9 L459.8,531.7 L460.2,525.8 L460.8,530.1 L461.2,526.1 L461.7,530 L462.1,523.7 L462.7,528.6 L463.2,523 L463.7,528.6 L464.2,522.4 L464.6,527.5 L465.1,522.3 L465.4,530.5 L466,524 L466.6,529.3 L467.1,523.7 L467.7,530.5 L468.1,520.9 L468.6,530.4 L469.2,521.3 L469.8,530.4 L470.2,518 L470.8,528.4 L471.4,520.7 L472,528.9 L472.5,516.2 L473,529.1 L473.5,517.2 L474.1,529.3 L474.6,518.5 L475.1,528 L475.7,514.9 L476.2,529.3 L476.9,517.6 L477.4,527.5 L477.9,517.9 L478.4,527.5 L479,514.6 L479.6,529 L480.1,513.3 L480.6,529 L481.1,512.6 L481.6,528.3 L482.1,517.4 L482.6,527.7 L483.3,515.5 L483.9,527.3 L484.5,511.3 L485.1,528 L485.7,514.9 L486.3,527.7 L486.8,511.4 L487.4,526.5 L487.9,512.6 L488.4,527.3 L488.9,515.9 L489.5,526.2 L490.2,510.5 L490.7,523.5 L491.2,514.9 L491.9,526.2 L492.5,515.1 L493,525.6 L493.5,513.1 L494,524.2 L494.6,513.4 L495.2,523.3 L495.8,510.8 L496.4,525.1 L496.9,510.3 L497.4,525.5 L497.9,513.6 L498.5,522 L499.1,509.7 L499.6,522.5 L500.2,508.7 L500.8,523.1 L501.4,507.7 L501.9,523.1 L502.5,510.6 L503,522 L503.6,509.2 L504.2,524.2 L504.7,509.2 L505.4,521.2 L505.9,510.9 L506.4,521.4 L507.1,510 L507.5,523.7 L508,508.4 L508.4,523.6 L508.9,510.7 L509.5,520.5 L510.1,507.8 L510.7,521.9 L511.3,505 L511.9,522 L512.4,509.9 L513.1,519.5 L513.5,509.6 L514.1,519.4 L514.6,507.2 L515.1,520.5 L515.6,502.9 L516.1,520 L516.7,505.3 L517.2,518 L517.7,507.1 L518.1,518.4 L518.7,505.7 L519.2,518.9 L519.8,502.7 L520.3,516.6 L521,503.3 L521.6,517.6 L522.1,498.3 L522.7,517.5 L523.2,502.5 L523.7,513.8 L524.3,497.3 L524.9,515.1 L525.3,498.5 L525.9,516.2 L526.4,501.2 L526.9,515.9 L527.4,497.2 L527.9,515.5 L528.4,494.4 L529,513.9 L529.6,493.5 L530.3,512.6 L530.8,498.2 L531.3,512.4 L531.8,491.8 L532.4,513.3 L533,492.1 L533.6,512.4 L534.2,497.6 L534.7,510 L535.3,492.9 L535.8,510.7 L536.3,494.6 L536.8,508.2 L537.5,494.9 L538.1,505.9 L538.7,490.2 L539.1,508.8 L539.6,489.1 L540.2,508.1 L540.8,487.4 L541.3,507.3 L541.9,490.5 L542.5,506.5 L542.9,491.2 L543.5,501 L544.1,487.4 L544.5,503.2 L545.1,484.1 L545.6,500 L546.2,478.4 L546.6,498.6 L547.1,483.3 L547.6,496.6 L548.1,476 L548.6,496 L549.2,476.9 L549.8,488.5 L550.4,473.5 L551.1,485.4 L551.7,471.1 L552.3,480 L552.8,470.1 L553.3,476.6 L553.8,468.7 L554.4,474.5 L554.9,466.3 L555.4,471.7 L555.9,465.5 L556.5,468.8 L557.1,460.3 L557.5,466.1 L558.2,457.4 L558.8,461.7 L559.4,454.4 L560,459.4 L560.6,449.8 L561.2,454.6 L561.8,446.5 L562.3,449.8 L562.9,440.4 L563.4,443.5 L564,434.8 L564.5,439.2 L565.1,430.7 L565.6,436.8 L566.3,428.3 L566.8,434.5 L567.4,426.8 L568,434.8 L568.6,428.3 L569.2,436.7 L569.7,430.6 L570.4,431.1 L571,420.6 L571.5,420 L572.1,413.4 L572.7,420 L573.2,412.4 L573.8,425.4 L574.3,420.3 L574.9,431 L575.4,424.7 L576,435.9 L576.5,431.6 L577.1,440.8 L577.6,439.5 L578.1,451.4 L578.7,448.9 L579.2,459.7 L579.9,457.6 L580.4,466.7 L580.9,460.5 L581.4,470.7 L581.9,464.9 L582.5,473.7 L583,468.9 L583.5,477.8 L584,470.6 L584.6,480.8 L585.1,473.8 L585.6,483.4 L586.1,476.6 L586.8,486.1 L587.4,480.4 L587.9,488.2 L588.4,480.7 L588.4,481.6 L588.8,461 L589,489.6 L589.2,461 L589.6,482.9 L589.6,482.7 L590.3,491 L590.9,484.7 L591.4,494.1 L591.9,488.7 L592.4,498.3 L592.9,490.4 L593.4,501.3 L594,497.1 L594.5,504.5 L595.1,498.3 L595.8,508.2 L596.3,505 L596.9,511.5 L597.5,507.7 L598,515.1 L598.4,510.9 L598.6,510.9 L598.8,516 L599,518.2 L599.2,516 L599.5,514.2 L599.6,515.2 L600.1,520.9 L600.7,517.4 L601.3,522.4 L601.8,518.4 L602.3,522.4 L602.8,518.2 L603.3,523.3 L603.9,519.6 L604.3,523.5 L604.8,518.6 L605.4,524 L605.9,519.5 L606.5,524.1 L607.1,520.5 L607.7,524.5 L608.2,520.9 L608.7,525 L609.3,521.1 L609.9,525.7 L610.5,522.5 L611,526.2 L611.6,523.3 L612.1,526.8 L612.7,522.7 L613.2,526.9 L613.8,522.9 L614.5,527.6 L615.1,523.6 L615.7,528.3 L616.3,524.1 L616.9,528.6 L617.4,524.8 L618,529 L618.5,526.6 L619.2,529.6 L619.8,526.5 L620.4,529.5 L621,527.1 L621.7,530.1 L622.2,526.9 L622.8,530 L623.4,527.1 L623.9,530.7 L624.5,528.3 L625.1,530.6 L625.6,528 L626.2,531.3 L626.8,528.6 L627.3,531.8 L627.8,529.1 L628.4,531.6 L629,529.4 L629.5,532.3 L630,529.3 L630.5,532.3 L631.1,530.4 L631.7,532.5 L632.2,530.9 L632.6,532.6 L633.3,531.2 L633.7,533 L634.4,531 L634.9,533.3 L635.5,531.9 L636,533.6 L636.5,532 L637,533.6 L637.5,531.7 L638,534.3 L638.5,532 L639.1,534.6 L639.7,532.6 L640.2,534.8 L640.6,532.9 L641.3,534.9 L641.8,533 L642.4,535.3 L642.9,533.7 L643.4,535.4 L643.9,533.8 L644.4,535.8 L644.9,534.6" fill="none" stroke="#ec3038" stroke-width="2.0" stroke-linejoin="round" />
<path d="M479.9,519.3 481.1,506.4 481.7,506.4 482.6,512.7 483.6,514.5 484.5,517.8 485.4,517.9Z M488.6,517.1 489.8,502 490.4,502 491.3,508.4 492.3,513.6 493.2,514.8 494.1,515.7Z M498.5,514.9 499.7,495 500.3,495 501.2,504.8 502.2,509.2 503.1,514.1 504,514Z M504.1,514 505.3,490 505.9,490 506.8,500.4 507.8,507 508.7,511.1 509.6,512.5Z M508.5,513 509.7,487 510.3,487 511.2,498.2 512.1,504.3 513.1,509 514,510.4Z M514.9,509.9 516.1,480.2 516.7,480.2 517.6,491.8 518.5,500.3 519.5,505.1 520.4,507Z M519.5,507.5 520.7,478 521.3,478 522.2,489.9 523.1,498.3 524.1,503.8 525,504.5Z M523.7,505.2 524.9,471.4 525.5,471.4 526.4,485.7 527.4,496.2 528.3,501.6 529.2,502.2Z M527.7,503 528.4,468.2 529,468.2 529.9,483.9 530.9,493.9 531.8,498.6 532.7,499.9Z M531,501.1 531.7,472 532.3,472 533.2,484.4 534.1,492.9 535.1,496.6 536,497.7Z M534.6,498.7 535.8,467 536.4,467 537.3,479.4 538.2,488.9 539.2,493.7 540.1,495Z M541.2,494.3 542.4,475.8 543,475.8 543.9,479.8 544.9,482.8 545.8,484.6 546.7,485.7Z" fill="#ec3038" stroke="#ec3038" stroke-width="0.8" stroke-linejoin="round"/>
<path d="M386.5,554.9 L387.5,554.9 L388.5,555 L389.5,555 L390.5,555 L391.6,554.8 L392.6,555.1 L393.6,554.9 L394.6,555 L395.6,555 L396.6,555.1 L397.6,554.8 L398.6,554.8 L399.6,555 L400.6,554.9 L401.6,555 L402.7,554.8 L403.7,555.1 L404.7,554.7 L405.7,555 L406.7,554.8 L407.7,554.7 L408.7,555 L409.7,554.7 L410.7,554.8 L411.8,554.8 L412.8,554.8 L413.8,554.8 L414.8,554.7 L415.8,555 L416.8,554.7 L417.8,554.8 L418.8,554.7 L419.8,555.1 L420.8,554.9 L421.9,555 L422.9,555.1 L423.9,554.9 L424.9,554.9 L425.9,554.9 L426.9,554.8 L427.9,554.9 L428.9,555.1 L429.9,554.9 L430.9,555 L431.9,555.1 L433,555 L434,555 L435,554.9 L436,554.7 L437,554.9 L437.5,554.8 L438.1,544.1 L438.7,552.6 L439.3,535.9 L439.8,554.8 L440.3,537.7 L440.8,553.9 L441.4,540.8 L442,554.5 L442.5,541.3 L443,554.9 L443.5,540.1 L444,554.9 L444.5,536.7 L445.1,554.9 L445.6,537 L446.2,554.9 L446.8,537.1 L447.3,554.8 L447.8,541.4 L448.4,551.5 L448.9,535.9 L449.4,553.3 L449.9,541.9 L450.3,554.8 L450.7,535.6 L451.1,554.8 L451.6,541.6 L452.1,553.5 L452.6,535.9 L453.1,552.9 L453.5,539.2 L454,553.2 L454.4,536.2 L454.9,552.6 L455.4,536.1 L455.9,554.7 L456.4,536.2 L456.9,553.8 L457.4,537.4 L457.9,555 L458.5,537.6 L459,554.7 L459.5,542.9 L459.9,554.3 L460.4,541 L460.9,554.9 L461.5,526.3 L462,538.6 L462.4,514.9 L462.9,529.3 L463.4,508.4 L463.8,520.6 L464.2,507.6 L464.7,519.8 L465.3,505 L465.8,518.5 L466.3,507.9 L466.8,516.4 L467.3,504.3 L467.9,517.5 L468.4,506.9 L469,516.2 L469.5,505.1 L470,516 L470.4,505.2 L470.9,515.7 L471.4,505.6 L471.9,514.7 L472.3,507.1 L472.9,513.7 L473.4,503 L473.9,514.3 L474.3,504 L474.9,513.4 L475.4,505.2 L475.9,512.4 L476.4,506.6 L476.8,513 L477.3,506 L477.9,512.5 L478.3,505.9 L478.8,512.1 L479.3,503.1 L479.8,511.3 L480.3,503.1 L480.8,510.9 L481.2,505.1 L481.7,510.6 L482.2,505.9 L482.7,511.9 L483.1,503.9 L483.6,511.6 L484.1,504.8 L484.6,511.2 L485.1,503.9 L485.6,511 L486.2,505.6 L486.6,510.8 L487.2,503 L487.7,510 L488.2,504.9 L488.8,509.5 L489.2,503.2 L489.7,509 L490.1,502.6 L490.6,509.7 L491.1,503 L491.6,509 L492.1,503.7 L492.7,509.4 L493.1,503.5 L493.7,508.9 L494.3,502.1 L494.7,508.8 L495.3,502.4 L495.8,508.8 L496.3,503.2 L496.8,508.6 L497.3,502.4 L497.8,507.2 L498.2,502.7 L498.7,507.8 L499.1,502.9 L499.7,508.2 L500.2,501.1 L500.7,507.3 L501.2,503.3 L501.7,507.3 L502.2,501.2 L502.7,507.4 L503.2,500.7 L503.7,507.5 L504.1,501.4 L504.7,507 L505.1,502.6 L505.6,506.8 L506,500.7 L506.4,506.3 L506.9,501.2 L507.4,505.7 L507.8,501.4 L508.3,506.7 L508.8,500.2 L509.3,506.2 L509.7,499.4 L510.2,505.8 L510.8,500.2 L511.4,504.6 L511.9,500.4 L512.5,504.1 L513,499.9 L513.6,503.7 L514.1,499.3 L514.6,502.6 L515,497.6 L515.6,502.2 L516.1,497.2 L516.6,502.7 L517.1,496.6 L517.7,502.2 L518.1,497.8 L518.7,500.9 L519.2,495.9 L519.8,500.4 L520.3,495.8 L520.9,499.7 L521.3,494.5 L521.8,499.5 L522.3,494.4 L522.8,498.8 L523.4,493.2 L523.9,498.4 L524.4,493.3 L525,497 L525.4,491.4 L525.9,496.7 L526.3,491.1 L526.9,495.9 L527.4,491.2 L527.9,495.2 L528.3,490.9 L528.8,495.4 L529.2,488.8 L529.7,494.3 L530.1,488.6 L530.7,493.9 L531.1,488.6 L531.7,493.2 L532.2,487.4 L532.7,492.9 L533.2,488.5 L533.8,492.4 L534.3,486.5 L534.9,491.4 L535.3,485.7 L535.8,490.1 L536.3,485.1 L536.8,490.3 L537.3,485.3 L537.8,490 L538.3,484.6 L538.9,489.3 L539.3,484.5 L539.9,488.2 L540.4,484.6 L540.8,487.3 L541.4,482.8 L541.8,486.8 L542.4,482.9 L542.9,486.1 L543.5,482 L543.9,486.2 L544.4,483.5 L544.9,485.9 L545.3,482 L545.8,485.7 L546.3,482 L546.9,485.5 L547.3,482.8 L547.9,486 L548.5,483 L548.9,489.1 L549.4,484.2 L549.9,492.8 L550.4,487.1 L550.9,496.3 L551.5,489.4 L552,498.8 L552.5,488.9 L553.1,500.5 L553.5,493.8 L554,501.5 L554.5,492.4 L555,503.1 L555.6,494.6 L556.1,505.4 L556.7,494.3 L557.1,506.6 L557.6,496.8 L558.1,509.1 L558.6,496.3 L559,507.2 L559.4,497.4 L559.9,510.6 L560.3,496.7 L560.7,509.9 L561.2,495.2 L561.8,510.9 L562.4,499.5 L562.8,511.2 L563.4,496.3 L563.9,512.6 L564.4,497.8 L564.9,510.8 L565.4,494.5 L565.9,513 L566.3,494.3 L566.9,511.5 L567.4,497.6 L567.8,511.1 L568.4,495.8 L568.9,511.4 L569.4,499 L570,512.8 L570.5,491.8 L571,508.9 L571.4,493.5 L571.8,507.9 L572.3,496.7 L572.9,511.2 L573.4,496.6 L573.9,509.3 L574.4,491.5 L574.9,506.9 L575.4,494.1 L575.9,509.2 L576.4,491.3 L576.9,505.8 L577.4,496.4 L577.9,507.9 L578.3,493.1 L578.8,506.9 L579.4,490.4 L580,506.3 L580.5,491.4 L581.1,505.1 L581.5,493.2 L581.9,505.5 L582.4,492.3 L583,504.8 L583.6,490.6 L584.2,503.4 L584.8,492.9 L585.2,504.8 L585.8,493.5 L586.2,504.3 L586.7,495.7 L587.3,507.2 L587.9,494.3 L588.4,507.1 L588.8,498.1 L589.3,510.4 L589.9,493.8 L590.4,510.5 L590.8,492.4 L591.3,508.3 L591.8,498.1 L592.3,511.3 L592.8,492.3 L593.2,507.8 L593.7,493.9 L594.2,511.9 L594.6,491.1 L595.1,510.6 L595.6,493.1 L596.1,511.8 L596.6,500.1 L597.2,516.7 L597.6,498.5 L598.2,519.5 L598.7,503.4 L599.3,522.2 L599.7,500.1 L600.2,521.7 L600.7,501.3 L601.3,524.9 L601.8,499.9 L602.3,520.2 L602.8,499.8 L603.3,525.5 L603.9,501.1 L604.3,523.5 L604.8,505.2 L605.2,523.9 L605.7,505.2 L606.2,525.4 L606.8,503 L607.4,526.9 L607.8,506.6 L608.4,527.7 L608.8,507.2 L609.2,525.5 L609.7,508.6 L610.2,525.1 L610.8,509 L611.3,525.3 L611.8,506.5 L612.2,528.9 L612.6,508.5 L613.1,530.2 L613.5,514.9 L613.9,526.9 L614.5,512.8 L614.9,531.3 L615.4,509.9 L616,531.9 L616.4,514.7 L616.8,530 L617.3,511.8 L617.7,531 L618.3,514.4 L618.8,533.6 L619.4,515.4 L619.8,534.3 L620.4,514.9 L620.9,533.8 L621.5,521.3 L621.9,533.5 L622.5,519.3 L623,535.4 L623.5,521.5 L623.9,534.4 L624.4,519.7 L625,535.8 L625.4,518.3 L625.8,536.8 L626.3,519.2 L626.8,533.7 L627.3,519.9 L627.8,537.4 L628.4,524.9 L628.9,537.7 L629.5,523.2 L630,534.9 L630.6,522.6 L631.1,538.5 L631.6,522 L632.1,538.2 L632.5,522.2 L633,538.7 L633.5,526.3 L633.9,538.9 L634.3,527.1 L634.7,536.1 L635.3,524.9 L635.8,538.4 L636.2,527.2 L636.8,538.8 L637.3,528 L637.7,536.5 L638.1,525.2 L638.6,537.7 L639,528.2 L639.4,537.1 L640,524.4 L640.4,539.5 L640.8,524.8 L641.3,539.7 L641.8,528.5 L642.3,537.9 L642.8,526.7 L643.2,537.2 L643.6,529.4 L644,538.9 L644.5,529.6 L645,538.6 L645.6,527.8 L646,540.2 L646.5,530.8 L647,539.6 L647.5,527.4 L648,537.8 L648.6,530.1 L649,538.4 L649.6,528.7 L650,540.5 L650.5,528.6 L650.9,540.3 L651.3,530.6 L651.7,540.1 L652.3,529.8 L652.8,538.2 L653.3,527.9 L653.8,539.9 L654.4,530.3 L654.8,528.3 L654.8,539.2 L655.3,528.7 L655.3,555.7 L655.7,555.7 L655.7,540.1 L656.2,528.4 L656.3,527.8 L656.5,528.5 L656.8,555.7 L656.8,540.6 L657.2,555.7 L657.4,529.2 L657.5,528.5 L658,538.5 L658.4,527.4 L659,540.6 L659.4,528.4 L659.9,538.7 L660.5,528.1 L660.9,540.2 L661.4,527.8 L661.8,539.9 L662.4,528.2 L662.9,538.7 L663.2,529.1 L663.3,527.9 L663.7,539.8 L663.8,555.7 L664.2,555.7 L664.3,531.8 L664.7,541 L664.8,529.2 L665.1,531.8 L665.5,529.3 L665.7,538.9 L665.8,555.7 L666.2,555.7 L666.3,532.3 L666.5,529.4 L666.8,541.1 L667.3,531.7 L667.8,539 L668.3,529.3 L668.8,540.6 L669.3,530.2 L669.8,539.9 L670.3,529.9 L670.7,540.9 L671.2,529.8 L671.3,529.4 L671.7,541.6 L671.8,555.7 L672.1,528.8 L672.2,555.7 L672.6,541.5 L672.8,529.8 L673.1,530 L673.6,541.2 L673.8,529.8 L674.2,530.9 L674.3,555.7 L674.6,540.2 L674.7,555.7 L675.2,529.7 L675.2,529.8 L675.7,541.4 L676.2,530.3 L676.6,540.9 L677.1,531.3 L677.5,541 L678,531.1 L678.5,540 L679,531.5 L679.5,540.9 L680,528.8 L680.4,540.6 L681,528.5" fill="none" stroke="#57bb74" stroke-width="1.9" stroke-linejoin="round" />
<path d="M482,506.7 483.2,481.6 483.8,481.6 484.7,493.4 485.7,501.8 486.6,504.6 487.5,505.9Z M488.6,505.7 489.8,471.4 490.4,471.4 491.3,487.7 492.3,498.9 493.2,503.3 494.1,504.9Z M493.8,504.9 495,451 495.6,451 496.5,476.6 497.5,493.2 498.4,502.6 499.3,504.1Z M497.5,504.3 498.7,449.5 499.3,449.5 500.2,473.4 501.2,490.8 502.1,502.4 503,503.5Z M503.3,503.5 504.5,447 505.1,447 506,473.7 507,489.6 507.9,500.4 508.8,502.3Z M508.3,502.5 509.5,414.2 510.1,414.2 511,453.6 512,481.2 512.9,496.1 513.8,500.4Z M512.3,501 513.5,401.6 514.1,401.6 516,445 517.9,474.3 519.9,491.4 521.8,495.9Z M514.9,500 516.1,405.7 516.7,405.7 518.6,447.6 520.5,474.4 522.5,490.4 524.4,494.1Z M520,497 521.2,355.3 521.8,355.3 523.7,420.3 525.6,460 527.6,483.7 529.5,490.8Z M523.7,494.6 524.9,427.6 525.5,427.6 527.4,455.1 529.4,476.1 531.3,485.7 533.2,488.9Z M528.1,491.7 529.3,362.7 529.9,362.7 531.8,420.6 533.8,458.9 535.7,481.6 537.6,486.6Z M529.8,490.6 531,383.9 531.6,383.9 533.5,432.4 535.4,463.4 537.4,481.9 539.3,485.8Z M532.4,489.3 533.6,379.4 534.2,379.4 536.1,427.8 538,461.1 540,480.8 541.9,484.4Z M536.1,487.4 537.3,410.4 537.9,410.4 539.8,444 541.8,466.7 543.7,478.9 545.6,483.8Z M539.5,485.6 540.7,425 541.3,425 543.2,454.1 545.1,473.6 547.1,481.7 549,485.9Z M542.6,484.1 543.8,434.3 544.4,434.3 546.3,461.5 548.2,479.5 550.2,489.3 552.1,492.5Z M546.5,483.7 547.7,460 548.3,460 549.7,475.8 551.1,487.4 552.6,492.7 554,495.5Z" fill="#57bb74" stroke="#57bb74" stroke-width="0.8" stroke-linejoin="round"/>
<path d="M386.5,554.5 L387.2,554.6 L388,554.3 L388.8,554.6 L389.5,554.5 L390.3,540 L390.8,531.4 L391.5,544 L391.5,553.6 L392,545.8 L392.4,553.5 L392.9,545.2 L393.3,554.2 L393.8,544 L394.3,554 L394.9,544.6 L395.3,553.6 L395.8,543.5 L396.4,554.5 L396.8,544.9 L397.4,552.5 L397.9,544 L398.4,554.4 L398.9,546.9 L399.4,553.3 L399.8,545 L400.3,554.2 L400.8,550.1 L401.2,554.7 L401.7,554.4 L402.1,554.7 L402.6,554.7 L403,554.8 L403.5,554.8 L404,554.8 L404.4,554.7 L404.9,554.8 L405.5,554.4 L406,554.9 L406.5,554.2 L407,554.6 L407.4,554.6 L407.9,553.8 L408.3,547.6 L408.8,553.7 L409.4,548.8 L409.8,554.5 L410.3,548.6 L410.8,554.5 L411.3,548.6 L411.7,554.4 L412.2,547.5 L412.7,554.4 L413.1,548.3 L413.7,554.5 L414.2,548.5 L414.7,553.9 L415.2,547.8 L415.7,553.9 L416.2,547.7 L416.7,553.8 L417.2,547.9 L417.6,554.5 L418.2,550.9 L418.6,554.6 L419,554.2 L419.6,554.4 L420,554.1 L420.5,554.5 L421,554.6 L421.4,554.4 L421.9,554.8 L422.4,554.8 L422.8,554.7 L423.4,554.1 L424,554.5 L424.4,554.4 L424.9,554.7 L425.4,554.4 L425.9,554.6 L426.4,554.3 L426.9,554.9 L427.4,553.9 L427.9,554.2 L428.5,554.3 L429,554.4 L429.4,554.2 L429.9,554.5 L430.4,554.8 L430.9,554.5 L431.3,554.1 L431.8,554.3 L432.4,554.8 L432.8,554.1 L433.4,554.9 L433.9,554.2 L434.5,554.6 L435.1,554.6 L435.6,554.8 L436.1,554.2 L436.5,554.2 L437.1,549.8 L437.6,555.7 M465.1,552.8 L465.5,545.6 L466,552.4 L466.6,544.9 L467.1,551.4 L467.7,545.1 L468.2,551.2 L468.6,545.4 L469.1,550.2 L469.7,543.8 L470.1,548.1 L470.7,543.8 L471.1,548 L471.6,543.5 L472.1,546.6 L472.6,543 L473.1,546 L473.7,542.9 L474.3,546.3 L474.8,542.6 L475.2,546.1 L475.7,543.2 L476.3,545.2 L476.9,542.1 L477.5,545.5 L478.1,542.7 L478.5,545.7 L478.9,542.3 L479.4,545.6 L479.8,542.2 L480.3,545.3 L480.7,541.7 L481.2,544.3 L481.8,541.3 L482.3,543.9 L482.7,539.9 L483.3,543.7 L483.7,540.3 L484.1,543.8 L484.6,540.1 L485.1,543.1 L485.5,539.7 L486.1,542.9 L486.7,539.4 L487.2,542 L487.7,538.4 L488.2,541.6 L488.6,538.3 L489.2,541.7 L489.6,537.3 L490.2,541.4 L490.7,536.8 L491.2,540.8 L491.6,536.7 L492.1,540.1 L492.5,536.5 L493,539.5 L493.6,534.9 L494.1,539.5 L494.6,535.3 L495.2,539.4 L495.7,534.1 L496.1,538.2 L496.5,532.8 L497,538.6 L497.4,532.3 L498,537.8 L498.5,531.8 L499,537.9 L499.6,531.1 L500.1,537.3 L500.5,531.4 L501,536.6 L501.5,531.2 L502,536.2 L502.6,529.8 L503,535.6 L503.6,528.8 L504.2,535.2 L504.7,529.5 L505.3,533.8 L505.8,529 L506.3,532.8 L506.8,527.8 L507.4,533.5 L507.8,526.5 L508.3,531.9 L508.9,526.7 L509.4,532.4 L509.8,525.6 L510.4,530.7 L511,525.9 L511.5,531.2 L512,524.9 L512.5,530.7 L513.1,524.2 L513.6,530.1 L514,523.2 L514.5,529.6 L515,522.8 L515.4,529 L516,522.2 L516.6,528.4 L517.1,521.4 L517.5,527.8 L518.1,521.9 L518.5,526.2 L519,522.3 L519.4,525.6 L519.9,520.8 L520.3,525.6 L520.9,519.6 L521.4,524.9 L521.9,520.2 L522.5,525.1 L523,519.3 L523.6,523.5 L524.1,517.7 L524.5,522.9 L525.1,517.4 L525.6,523.4 L526,517.1 L526.5,522.4 L526.9,516.4 L527.4,521.6 L527.9,515.5 L528.4,521.9 L528.8,514.8 L529.4,520.1 L529.8,514.9 L530.3,519.7 L530.7,515.2 L531.2,520 L531.8,514.6 L532.2,519 L532.6,512.6 L533,519.3 L533.6,513.9 L534.1,518.7 L534.7,512.3 L535.2,518 L535.8,511.4 L536.3,517.1 L536.8,511.7 L537.3,516.4 L537.8,510.4 L538.3,514.9 L538.9,509.9 L539.4,514.3 L539.9,507.5 L540.4,513.9 L540.9,508.1 L541.5,514.3 L541.9,507.2 L542.5,513 L543,506.2 L543.5,511.5 L544,505.9 L544.5,510.1 L545.1,504.7 L545.6,509.4 L546.1,502.2 L546.7,508 L547.2,502.9 L547.8,506.7 L548.2,499.9 L548.7,504 L549.1,490.9 L549.7,502.1 L550.2,486.4 L550.8,498.9 L551.3,473.9 L551.8,492.1 L552.3,463.8 L552.8,490.2 L553.3,453.9 L553.8,483.3 L554.4,448.1 L554.9,475.6 L555.4,436.3 L556,467.6 L556.5,436 L557,455.7 L557.5,432.3 L558.1,454.9 L558.7,425.6 L559.1,450.6 L559.7,423.1 L560.2,445.9 L560.7,412.4 L561.1,436.9 L561.2,398 L561.6,396.1 L561.6,383 L562,383 L562.2,437.4 L562.4,391 L562.6,392.2 L563.1,433.5 L563.6,396.5 L564.1,434.4 L564.7,387.7 L565.1,427.9 L565.7,390.4 L566.3,422.1 L566.5,380.4 L566.7,388 L566.9,365.4 L567.3,415.3 L567.3,365.4 L567.7,372.7 L567.8,380.8 L568.3,423.1 L568.8,371.4 L569.3,417.7 L569.7,373.6 L570.2,412.6 L570.8,372.6 L571.4,414.9 L571.9,368.7 L572.4,407.5 L572.7,364 L572.8,359.2 L573.1,354.7 L573.4,409 L573.5,354.7 L573.8,370.3 L573.9,370.7 L574.4,418.2 L574.8,386.3 L575.3,425.2 L575.8,395.4 L576.4,423.8 L577,399.4 L577.5,434.8 L578,411.6 L578.6,435.5 L579.2,420.6 L579.8,446.5 L580.2,418.4 L580.7,451 L581.2,423.7 L581.8,459.5 L582.3,439 L582.8,465.5 L583.2,432.8 L583.7,469.4 L584.1,429.8 L584.7,488.5 L585.2,465.1 L585.6,510.2 L586.2,485 L586.7,513.6 L587.1,492.8 L587.5,518.9 L588,504.9 L588.5,520.6 L589,508.5 L589.6,522.7 L590.1,511.8 L590.6,522.2 L591.1,515.2 L591.6,524.8 L592.1,514.5 L592.6,524.9 L593,514.1 L593.5,523.3 L593.9,514.2 L594.4,525.2 L594.9,516.1 L595.5,525.4 L596,517.4 L596.5,527.8 L597,516.2 L597.5,529 L598.1,520.4 L598.7,530.2 L599.2,519.5 L599.8,531.1 L600.2,520.7 L600.7,532.1 L601.2,523.1 L601.7,531.8 L602.3,524.6 L602.8,532.7 L603.3,525.3 L603.9,532.5 L604.4,524 L604.9,534 L605.5,526.7 L606,532.8 L606.5,525.8 L607.1,535.2 L607.6,526 L608.1,535.7 L608.5,527.8 L609,535.3 L609.4,527.8 L609.9,536.5 L610.4,528.1 L611,535.6 L611.5,530.5 L611.9,535.3 L612.5,530.8 L612.9,536.6 L613.3,529.5 L613.8,537.3 L614.4,531.7 L614.8,537.3 L615.3,532.2 L615.8,537.3 L616.3,531.1 L616.8,537.7 L617.3,531.7 L617.8,538.1 L618.3,532.4 L618.9,538.3 L619.3,532.2 L619.8,538.5 L620.2,532.7 L620.6,538.6 L621.2,533.4 L621.7,538.6 L622.2,533.3 L622.7,539.1 L623.3,534.5 L623.8,539.2 L624.4,534.7 L624.9,539 L625.5,534.9 L626,539.6 L626.5,536.1 L626.9,539.5 L627.5,536.1 L627.9,539.5 L628.5,535.9 L628.9,540.3 L629.4,536.3 L629.8,540.5 L630.2,537.2 L630.7,540.6 L631.1,537.9 L631.5,540.7 L632.1,537.9 L632.6,540.8 L633.1,538.3 L633.5,540.3 L634,537.5 L634.6,540.9 L635,538.7 L635.6,540.6" fill="none" stroke="#4078e6" stroke-width="1.9" stroke-linejoin="round" />
<path d="M491,538.2 492.2,520 492.8,520 493.7,527.9 494.7,531 495.6,534.4 496.5,535Z M499.1,533.5 500.3,515.3 500.9,515.3 501.8,522.5 502.8,528.3 503.7,529.8 504.6,530.7Z M503.5,531.3 504.7,508 505.3,508 506.2,517.5 507.2,524.3 508.1,527.4 509,528.6Z M509.2,528.5 510.4,501.8 511,501.8 511.9,513.7 512.9,521.1 513.8,524.8 514.7,525.5Z M514.5,525.6 515.7,500 516.3,500 517.2,509.6 518.1,518.5 519.1,521.4 520,522.4Z M519.3,522.8 520.5,491.7 521.1,491.7 522,505 522.9,513.7 523.9,518.4 524.8,519.7Z M524.5,519.9 525.7,492 526.3,492 527.2,504.5 528.1,511 529.1,515 530,516.9Z M529.5,517.2 530.7,485 531.3,485 532.2,499.5 533.1,507.1 534.1,512 535,513.8Z M534,514.5 535.2,484 535.8,484 536.7,496.5 537.6,505.8 538.6,509.3 539.5,510.9Z M537.9,511.9 539.1,478.2 539.7,478.2 540.6,491.1 541.5,500.8 542.5,505.8 543.4,507.7Z M543.4,507.7 544.6,476 545.2,476 546.1,485.1 547,493.6 548,496.9 548.9,497.5Z" fill="#4078e6" stroke="#4078e6" stroke-width="0.8" stroke-linejoin="round"/>
</g>
<rect x="48.8" y="3.4" width="632.5" height="263.8" fill="none" stroke="#000" stroke-width="2.8"/>
<line x1="59" y1="268.6" x2="59" y2="271.1" stroke="#000" stroke-width="2.8"/>
<line x1="110" y1="268.6" x2="110" y2="273.6" stroke="#000" stroke-width="2.8"/>
<line x1="161.1" y1="268.6" x2="161.1" y2="271.1" stroke="#000" stroke-width="2.8"/>
<line x1="212.1" y1="268.6" x2="212.1" y2="273.6" stroke="#000" stroke-width="2.8"/>
<line x1="263.1" y1="268.6" x2="263.1" y2="271.1" stroke="#000" stroke-width="2.8"/>
<line x1="314.2" y1="268.6" x2="314.2" y2="273.6" stroke="#000" stroke-width="2.8"/>
<line x1="365.2" y1="268.6" x2="365.2" y2="271.1" stroke="#000" stroke-width="2.8"/>
<line x1="416.2" y1="268.6" x2="416.2" y2="273.6" stroke="#000" stroke-width="2.8"/>
<line x1="467.3" y1="268.6" x2="467.3" y2="271.1" stroke="#000" stroke-width="2.8"/>
<line x1="518.3" y1="268.6" x2="518.3" y2="273.6" stroke="#000" stroke-width="2.8"/>
<line x1="569.3" y1="268.6" x2="569.3" y2="271.1" stroke="#000" stroke-width="2.8"/>
<line x1="620.4" y1="268.6" x2="620.4" y2="273.6" stroke="#000" stroke-width="2.8"/>
<line x1="671.4" y1="268.6" x2="671.4" y2="271.1" stroke="#000" stroke-width="2.8"/>
<text x="110" y="294.8" font-family="Liberation Serif" font-weight="bold" font-size="20" text-anchor="middle">5</text>
<text x="212.1" y="294.8" font-family="Liberation Serif" font-weight="bold" font-size="20" text-anchor="middle">10</text>
<text x="314.2" y="294.8" font-family="Liberation Serif" font-weight="bold" font-size="20" text-anchor="middle">15</text>
<text x="416.2" y="294.8" font-family="Liberation Serif" font-weight="bold" font-size="20" text-anchor="middle">20</text>
<text x="518.3" y="294.8" font-family="Liberation Serif" font-weight="bold" font-size="20" text-anchor="middle">25</text>
<text x="620.4" y="294.8" font-family="Liberation Serif" font-weight="bold" font-size="20" text-anchor="middle">30</text>
<text x="382" y="318" font-family="Liberation Serif" font-weight="bold" font-size="27.4" text-anchor="middle">Retention Time (min)</text>
<text x="31.8" y="221.4" font-family="Liberation Serif" font-weight="bold" font-size="27.4" transform="rotate(-90 31.8 221.4)">Intensity (a.u.)</text>
<text x="-1" y="25.2" font-family="Liberation Serif" font-weight="bold" font-size="35">(a)</text>
<line x1="391.5" y1="20.3" x2="442" y2="20.3" stroke="#333" stroke-width="2.4"/>
<text x="446" y="27" font-family="Liberation Serif" font-weight="bold" font-size="22">Newly prepared lacquer</text>
<line x1="391.5" y1="46" x2="442" y2="46" stroke="#f01a14" stroke-width="2.6"/>
<text x="446" y="52.7" font-family="Liberation Serif" font-weight="bold" font-size="22">Artifact lacquer sample</text>
<rect x="45" y="335" width="298.5" height="239.8" fill="none" stroke="#000" stroke-width="2.2"/>
<line x1="43.7" y1="575.9" x2="43.7" y2="578.4" stroke="#000" stroke-width="2.2"/>
<line x1="68.3" y1="575.9" x2="68.3" y2="579.9" stroke="#000" stroke-width="2.2"/>
<line x1="92.9" y1="575.9" x2="92.9" y2="578.4" stroke="#000" stroke-width="2.2"/>
<line x1="117.5" y1="575.9" x2="117.5" y2="579.9" stroke="#000" stroke-width="2.2"/>
<line x1="142.1" y1="575.9" x2="142.1" y2="578.4" stroke="#000" stroke-width="2.2"/>
<line x1="166.7" y1="575.9" x2="166.7" y2="579.9" stroke="#000" stroke-width="2.2"/>
<line x1="191.3" y1="575.9" x2="191.3" y2="578.4" stroke="#000" stroke-width="2.2"/>
<line x1="215.9" y1="575.9" x2="215.9" y2="579.9" stroke="#000" stroke-width="2.2"/>
<line x1="240.5" y1="575.9" x2="240.5" y2="578.4" stroke="#000" stroke-width="2.2"/>
<line x1="265.1" y1="575.9" x2="265.1" y2="579.9" stroke="#000" stroke-width="2.2"/>
<line x1="289.7" y1="575.9" x2="289.7" y2="578.4" stroke="#000" stroke-width="2.2"/>
<line x1="314.3" y1="575.9" x2="314.3" y2="579.9" stroke="#000" stroke-width="2.2"/>
<line x1="338.9" y1="575.9" x2="338.9" y2="578.4" stroke="#000" stroke-width="2.2"/>
<text x="68.3" y="595.3" font-family="Liberation Serif" font-weight="bold" font-size="16" text-anchor="middle">5</text>
<text x="117.5" y="595.3" font-family="Liberation Serif" font-weight="bold" font-size="16" text-anchor="middle">10</text>
<text x="166.7" y="595.3" font-family="Liberation Serif" font-weight="bold" font-size="16" text-anchor="middle">15</text>
<text x="215.9" y="595.3" font-family="Liberation Serif" font-weight="bold" font-size="16" text-anchor="middle">20</text>
<text x="265.1" y="595.3" font-family="Liberation Serif" font-weight="bold" font-size="16" text-anchor="middle">25</text>
<text x="314.3" y="595.3" font-family="Liberation Serif" font-weight="bold" font-size="16" text-anchor="middle">30</text>
<text x="200" y="615.2" font-family="Liberation Serif" font-weight="bold" font-size="20.5" text-anchor="middle">Retention Time (min)</text>
<text x="32" y="518.4" font-family="Liberation Serif" font-weight="bold" font-size="20.5" transform="rotate(-90 32 518.4)">Intensity (a.u.)</text>
<text x="-1" y="358" font-family="Liberation Serif" font-weight="bold" font-size="34">(b)</text>
<text x="206.5" y="350.2" font-family="Liberation Serif" font-weight="bold" font-size="12.6">Newly prepared lacquer</text>
<line x1="254.6" y1="368.2" x2="286.8" y2="368.2" stroke="#222" stroke-width="2"/>
<text x="289" y="373.2" font-family="Liberation Serif" font-weight="bold" font-size="14">m/z=91</text>
<line x1="254.6" y1="385.4" x2="286.8" y2="385.4" stroke="#2a962e" stroke-width="2"/>
<text x="289" y="390.4" font-family="Liberation Serif" font-weight="bold" font-size="14">m/z=105</text>
<line x1="254.6" y1="402.3" x2="286.8" y2="402.3" stroke="#f01818" stroke-width="2"/>
<text x="289" y="407.3" font-family="Liberation Serif" font-weight="bold" font-size="14">m/z=43</text>
<line x1="254.6" y1="420.1" x2="286.8" y2="420.1" stroke="#2848f0" stroke-width="2"/>
<text x="289" y="425.1" font-family="Liberation Serif" font-weight="bold" font-size="14">m/z=57</text>
<rect x="386" y="335" width="296.2" height="239.4" fill="none" stroke="#000" stroke-width="2.2"/>
<line x1="385" y1="575.5" x2="385" y2="578" stroke="#000" stroke-width="2.2"/>
<line x1="409.4" y1="575.5" x2="409.4" y2="579.5" stroke="#000" stroke-width="2.2"/>
<line x1="433.8" y1="575.5" x2="433.8" y2="578" stroke="#000" stroke-width="2.2"/>
<line x1="458.2" y1="575.5" x2="458.2" y2="579.5" stroke="#000" stroke-width="2.2"/>
<line x1="482.6" y1="575.5" x2="482.6" y2="578" stroke="#000" stroke-width="2.2"/>
<line x1="506.9" y1="575.5" x2="506.9" y2="579.5" stroke="#000" stroke-width="2.2"/>
<line x1="531.3" y1="575.5" x2="531.3" y2="578" stroke="#000" stroke-width="2.2"/>
<line x1="555.7" y1="575.5" x2="555.7" y2="579.5" stroke="#000" stroke-width="2.2"/>
<line x1="580.1" y1="575.5" x2="580.1" y2="578" stroke="#000" stroke-width="2.2"/>
<line x1="604.5" y1="575.5" x2="604.5" y2="579.5" stroke="#000" stroke-width="2.2"/>
<line x1="628.9" y1="575.5" x2="628.9" y2="578" stroke="#000" stroke-width="2.2"/>
<line x1="653.3" y1="575.5" x2="653.3" y2="579.5" stroke="#000" stroke-width="2.2"/>
<line x1="677.7" y1="575.5" x2="677.7" y2="578" stroke="#000" stroke-width="2.2"/>
<text x="409.4" y="593.3" font-family="Liberation Serif" font-weight="bold" font-size="15" text-anchor="middle">5</text>
<text x="458.2" y="593.3" font-family="Liberation Serif" font-weight="bold" font-size="15" text-anchor="middle">10</text>
<text x="506.9" y="593.3" font-family="Liberation Serif" font-weight="bold" font-size="15" text-anchor="middle">15</text>
<text x="555.7" y="593.3" font-family="Liberation Serif" font-weight="bold" font-size="15" text-anchor="middle">20</text>
<text x="604.5" y="593.3" font-family="Liberation Serif" font-weight="bold" font-size="15" text-anchor="middle">25</text>
<text x="653.3" y="593.3" font-family="Liberation Serif" font-weight="bold" font-size="15" text-anchor="middle">30</text>
<text x="539.5" y="616" font-family="Liberation Serif" font-weight="bold" font-size="18.5" text-anchor="middle">Retention Tim e (min)</text>
<text x="375" y="514.4" font-family="Liberation Serif" font-weight="bold" font-size="19" transform="rotate(-90 375 514.4)">Intensity (a.u.)</text>
<text x="345" y="358" font-family="Liberation Serif" font-weight="bold" font-size="34">(c)</text>
<text x="540" y="352.7" font-family="Liberation Serif" font-weight="bold" font-size="13.6">Artifact lacquer sample</text>
<line x1="594.6" y1="371.4" x2="625.7" y2="371.4" stroke="#222" stroke-width="2"/>
<text x="627.5" y="376.4" font-family="Liberation Serif" font-weight="bold" font-size="14">m/z=91</text>
<line x1="594.6" y1="389" x2="625.7" y2="389" stroke="#2a962e" stroke-width="2"/>
<text x="627.5" y="394" font-family="Liberation Serif" font-weight="bold" font-size="14">m/z=105</text>
<line x1="594.6" y1="405.9" x2="625.7" y2="405.9" stroke="#f01818" stroke-width="2"/>
<text x="627.5" y="410.9" font-family="Liberation Serif" font-weight="bold" font-size="14">m/z=43</text>
<line x1="594.6" y1="422.4" x2="625.7" y2="422.4" stroke="#2848f0" stroke-width="2"/>
<text x="627.5" y="427.4" font-family="Liberation Serif" font-weight="bold" font-size="14">m/z=57</text>
</svg></body></html>
